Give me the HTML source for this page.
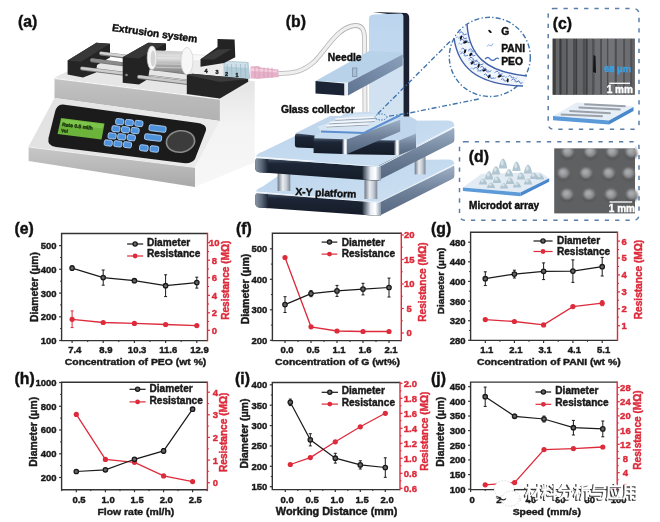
<!DOCTYPE html>
<html><head><meta charset="utf-8"><style>
html,body{margin:0;padding:0;background:#fff;}
body{width:660px;height:522px;overflow:hidden;}
svg{display:block;filter:blur(0.35px);}
</style></head><body>
<svg width="660" height="522" viewBox="0 0 660 522">
<rect width="660" height="522" fill="#fff"/>
<defs>
<linearGradient id="gFront" x1="0" y1="0" x2="0" y2="1">
 <stop offset="0" stop-color="#c4c4c4"/><stop offset="0.5" stop-color="#b9b9b9"/><stop offset="1" stop-color="#b2b2b2"/>
</linearGradient>
<linearGradient id="gFront2" x1="0" y1="0" x2="0" y2="1">
 <stop offset="0" stop-color="#c8c8c8"/><stop offset="1" stop-color="#a9a9a9"/>
</linearGradient>
<linearGradient id="gSide" x1="0" y1="0" x2="0" y2="1">
 <stop offset="0" stop-color="#e4e4e4"/><stop offset="0.4" stop-color="#f3f3f3"/><stop offset="1" stop-color="#f7f7f7"/>
</linearGradient>
<linearGradient id="gPanel" x1="0" y1="0" x2="1" y2="0">
 <stop offset="0" stop-color="#e2e2e2"/><stop offset="1" stop-color="#ececec"/>
</linearGradient>
<linearGradient id="gRod" x1="0" y1="0" x2="0" y2="1">
 <stop offset="0" stop-color="#e8e8e8"/><stop offset="0.5" stop-color="#b8b8b8"/><stop offset="1" stop-color="#8a8a8a"/>
</linearGradient>
<linearGradient id="gPlunger" x1="0" y1="0" x2="0" y2="1">
 <stop offset="0" stop-color="#c9c9c9"/><stop offset="0.35" stop-color="#e6e6e6"/><stop offset="0.7" stop-color="#a9a9a9"/><stop offset="1" stop-color="#8c8c8c"/>
</linearGradient>
<linearGradient id="gBlueTop" x1="0" y1="0" x2="1" y2="1">
 <stop offset="0" stop-color="#b9d3ec"/><stop offset="1" stop-color="#cfe1f2"/>
</linearGradient>
<linearGradient id="gBandL" x1="0" y1="0" x2="0" y2="1">
 <stop offset="0" stop-color="#4a5a70"/><stop offset="0.25" stop-color="#1d2636"/><stop offset="1" stop-color="#141b27"/>
</linearGradient>
<linearGradient id="gBandR" x1="0" y1="0" x2="0" y2="1">
 <stop offset="0" stop-color="#9db0c6"/><stop offset="0.5" stop-color="#6e8199"/><stop offset="1" stop-color="#566780"/>
</linearGradient>
<linearGradient id="gCorner" x1="0" y1="0" x2="1" y2="0">
 <stop offset="0" stop-color="#2a3444"/><stop offset="0.45" stop-color="#e8eef4"/><stop offset="0.7" stop-color="#ffffff"/><stop offset="1" stop-color="#8797ab"/>
</linearGradient>
<linearGradient id="gCornerL" x1="0" y1="0" x2="1" y2="0">
 <stop offset="0" stop-color="#8a96a6"/><stop offset="0.5" stop-color="#5b6879"/><stop offset="1" stop-color="#1d2636"/>
</linearGradient>
<linearGradient id="gPillar" x1="0" y1="0" x2="1" y2="0">
 <stop offset="0" stop-color="#6d7684"/><stop offset="0.4" stop-color="#e9edf1"/><stop offset="0.7" stop-color="#c3cad3"/><stop offset="1" stop-color="#7b8594"/>
</linearGradient>
<linearGradient id="gArmSide" x1="0" y1="1" x2="1" y2="0">
 <stop offset="0" stop-color="#5f7390"/><stop offset="1" stop-color="#8aa0bb"/>
</linearGradient>
<linearGradient id="gCol" x1="0" y1="0" x2="0" y2="1">
 <stop offset="0" stop-color="#bcd5ee"/><stop offset="1" stop-color="#c9ddf1"/>
</linearGradient>
<linearGradient id="gSEM" x1="0" y1="0" x2="1" y2="0">
 <stop offset="0" stop-color="#55575a"/><stop offset="0.5" stop-color="#6a6c70"/><stop offset="1" stop-color="#5e6064"/>
</linearGradient>
<filter id="fBlur" x="-10%" y="-10%" width="120%" height="120%"><feGaussianBlur stdDeviation="0.9"/></filter>
<filter id="fBlur2" x="-10%" y="-10%" width="120%" height="120%"><feGaussianBlur stdDeviation="0.5"/></filter>
</defs>
<polygon points="219.9,98.6 254.7,81.2 254.7,162.2 195,187 195,167 219.9,121" fill="url(#gSide)" />
<polygon points="54.5,77.5 96,58 254.7,81.2 219.9,98.6" fill="#e6e6e6" />
<polygon points="54.5,77.8 219.9,98.6 219.9,121 54.5,98" fill="url(#gFront)" />
<path d="M54.5 78.3L219.9 99.1" stroke="#f4f4f4" stroke-width="1.2"/>
<polygon points="54.5,98 219.9,121 195,167 28.6,146.6" fill="url(#gPanel)" />
<polygon points="28.6,146.6 195,167 195,187 28.6,161" fill="url(#gFront2)" />
<path d="M28.6 147L195 167.4" stroke="#f2f2f2" stroke-width="1"/>
<path d="M63 104.5 L198 123 Q209 125 205 133 L195 159 Q192 164 183 163 L56 147 Q47 146 48.5 138 L55 112 Q57 104 63 104.5Z" fill="#1b1b1b"/>
<polygon points="61,118 104.5,123.5 101.5,139.5 57.5,134" fill="#6bb33a" />
<polygon points="62,119 103.5,124.3 102.5,128.5 61,123.5" fill="#7cc54a" />
<text x="62" y="126" font-size="5" fill="#1f3a12" transform="rotate(7 62 126)" font-family="'Liberation Sans', Arial, sans-serif" font-weight="bold" stroke="#1f3a12" stroke-width="0.42">Rate 0.5 ml/h</text>
<text x="61" y="132" font-size="4.5" fill="#1f3a12" transform="rotate(7 61 132)" font-family="'Liberation Sans', Arial, sans-serif" font-weight="bold" stroke="#1f3a12" stroke-width="0.42">Vol</text>
<rect x="115.7" y="118.8" width="8" height="5.8" rx="1.6" fill="#4f92dc" stroke="#a9cdf3" stroke-width="0.9" transform="rotate(7 119.7 121.7)"/>
<rect x="125.3" y="119.7" width="8" height="5.8" rx="1.6" fill="#4f92dc" stroke="#a9cdf3" stroke-width="0.9" transform="rotate(7 129.3 122.6)"/>
<rect x="134.9" y="120.6" width="8" height="5.8" rx="1.6" fill="#4f92dc" stroke="#a9cdf3" stroke-width="0.9" transform="rotate(7 138.9 123.5)"/>
<rect x="111.9" y="125.9" width="8" height="5.8" rx="1.6" fill="#4f92dc" stroke="#a9cdf3" stroke-width="0.9" transform="rotate(7 115.9 128.8)"/>
<rect x="121.5" y="126.8" width="8" height="5.8" rx="1.6" fill="#4f92dc" stroke="#a9cdf3" stroke-width="0.9" transform="rotate(7 125.5 129.7)"/>
<rect x="131.1" y="127.7" width="8" height="5.8" rx="1.6" fill="#4f92dc" stroke="#a9cdf3" stroke-width="0.9" transform="rotate(7 135.1 130.6)"/>
<rect x="108.1" y="133.0" width="8" height="5.8" rx="1.6" fill="#4f92dc" stroke="#a9cdf3" stroke-width="0.9" transform="rotate(7 112.1 135.9)"/>
<rect x="117.7" y="133.9" width="8" height="5.8" rx="1.6" fill="#4f92dc" stroke="#a9cdf3" stroke-width="0.9" transform="rotate(7 121.7 136.8)"/>
<rect x="127.3" y="134.8" width="8" height="5.8" rx="1.6" fill="#4f92dc" stroke="#a9cdf3" stroke-width="0.9" transform="rotate(7 131.3 137.7)"/>
<rect x="104.3" y="140.1" width="8" height="5.8" rx="1.6" fill="#4f92dc" stroke="#a9cdf3" stroke-width="0.9" transform="rotate(7 108.3 143.0)"/>
<rect x="113.9" y="141.0" width="8" height="5.8" rx="1.6" fill="#4f92dc" stroke="#a9cdf3" stroke-width="0.9" transform="rotate(7 117.9 143.9)"/>
<rect x="123.5" y="141.9" width="8" height="5.8" rx="1.6" fill="#4f92dc" stroke="#a9cdf3" stroke-width="0.9" transform="rotate(7 127.5 144.8)"/>
<rect x="149.5" y="124.5" width="17" height="6" rx="1.6" fill="#4f92dc" stroke="#a9cdf3" stroke-width="0.9" transform="rotate(7 149.5 124.5)"/>
<rect x="145" y="133.5" width="17" height="6" rx="1.6" fill="#4f92dc" stroke="#a9cdf3" stroke-width="0.9" transform="rotate(7 145 133.5)"/>
<rect x="140" y="144.5" width="8.5" height="6" rx="1.6" fill="#4f92dc" stroke="#a9cdf3" stroke-width="0.9" transform="rotate(7 140 144.5)"/>
<rect x="150.5" y="145.5" width="8.5" height="6" rx="1.6" fill="#4f92dc" stroke="#a9cdf3" stroke-width="0.9" transform="rotate(7 150.5 145.5)"/>
<ellipse cx="180.5" cy="141.5" rx="15" ry="11.5" fill="#8a8a8a" transform="rotate(-8 180.5 141.5)"/>
<ellipse cx="180.5" cy="141.5" rx="13.3" ry="10" fill="#3c3c3c" transform="rotate(-8 180.5 141.5)"/>
<polygon points="67.6,60.4 96.4,42.7 110,43.8 110,57.5 97,65 96,72.5 83,77.5 67.6,74.5" fill="#252525" />
<polygon points="67.6,60.4 96.4,42.7 110,43.8 81,61.8" fill="#383838" />
<path d="M101 53.4L190 65" stroke="#7a7a7a" stroke-width="4" stroke-linecap="round"/>
<path d="M101 53.0L190 64.6" stroke="#d2d2d2" stroke-width="2.6" stroke-linecap="round"/>
<path d="M92 60.3L190 73" stroke="#7a7a7a" stroke-width="4" stroke-linecap="round"/>
<path d="M92 59.9L190 72.6" stroke="#8a8a8a" stroke-width="2.6" stroke-linecap="round"/>
<path d="M82 68.6L190 82" stroke="#7a7a7a" stroke-width="4" stroke-linecap="round"/>
<path d="M82 68.19999999999999L190 81.6" stroke="#cdcdcd" stroke-width="2.6" stroke-linecap="round"/>
<polygon points="122.7,57.3 148.2,42.7 166,43.6 166,50 151,60 148,79 139,84.5 122.7,82.7" fill="#232323" />
<polygon points="122.7,57.3 148.2,42.7 166,43.6 139,58.5" fill="#363636" />
<circle cx="126.5" cy="75" r="1.3" fill="#888"/>
<path d="M139 77L188 83" stroke="#777" stroke-width="4" stroke-linecap="round"/>
<path d="M139 76.6L188 82.6" stroke="#c9c9c9" stroke-width="2.6" stroke-linecap="round"/>
<polygon points="153.6,50.3 184,51.5 184,71.5 153.6,70.7" fill="url(#gPlunger)" />
<path d="M156 53.0L183 53.5" stroke="#d0d0d0" stroke-width="0.8"/>
<path d="M156 56.6L183 57.1" stroke="#d0d0d0" stroke-width="0.8"/>
<path d="M156 60.2L183 60.7" stroke="#d0d0d0" stroke-width="0.8"/>
<path d="M156 63.8L183 64.3" stroke="#d0d0d0" stroke-width="0.8"/>
<path d="M156 67.4L183 67.9" stroke="#d0d0d0" stroke-width="0.8"/>
<ellipse cx="152" cy="57.8" rx="4.8" ry="11.8" fill="#f6f6f6" stroke="#c8c8c8" stroke-width="0.7"/>
<ellipse cx="153" cy="58.5" rx="2.4" ry="8" fill="#d4d4d4"/>
<polygon points="188,53.5 225,56 225,77.5 188,74" fill="#ececec" />
<polygon points="192,55 224,57 224,62 192,60" fill="#f8f8f8" />
<ellipse cx="187" cy="61" rx="6" ry="13.6" fill="#f7f7f7" stroke="#d0d0d0" stroke-width="0.7"/>
<polygon points="223.5,60.5 248.5,62 250.3,79 223.5,79" fill="#b4ccd8" />
<polygon points="225,61.5 247,63 247.5,68 225,66.5" fill="#cfe0e8" />
<path d="M227.0 64 L227.5 77" stroke="#8fb0c2" stroke-width="0.6"/>
<path d="M231.5 64 L232.0 77" stroke="#8fb0c2" stroke-width="0.6"/>
<path d="M236.0 64 L236.5 77" stroke="#8fb0c2" stroke-width="0.6"/>
<path d="M240.5 64 L241.0 77" stroke="#8fb0c2" stroke-width="0.6"/>
<path d="M245.0 64 L245.5 77" stroke="#8fb0c2" stroke-width="0.6"/>
<polygon points="250.5,66.5 258,66 262,67.8 278.5,69.5 279,77 262,78.6 258,79 250.5,78.2" fill="#e6b2ca" />
<polygon points="251,68 277,70.5 277,72.5 251,71" fill="#f2cfdf" />
<path d="M255 67.5 L255 78" stroke="#d796b3" stroke-width="0.7"/>
<path d="M259 67.5 L259 78" stroke="#d796b3" stroke-width="0.7"/>
<path d="M264 67.5 L264 78" stroke="#d796b3" stroke-width="0.7"/>
<path d="M268 67.5 L268 78" stroke="#d796b3" stroke-width="0.7"/>
<path d="M272 67.5 L272 78" stroke="#d796b3" stroke-width="0.7"/>
<text x="204.6" y="72.5" font-size="5.5" fill="#222" font-family="'Liberation Sans', Arial, sans-serif" font-weight="bold" stroke="#222" stroke-width="0.42">4</text>
<text x="215.5" y="74" font-size="5.5" fill="#222" font-family="'Liberation Sans', Arial, sans-serif" font-weight="bold" stroke="#222" stroke-width="0.42">3</text>
<text x="225" y="75.5" font-size="5.5" fill="#222" font-family="'Liberation Sans', Arial, sans-serif" font-weight="bold" stroke="#222" stroke-width="0.42">2</text>
<text x="235.5" y="76.5" font-size="5.5" fill="#222" font-family="'Liberation Sans', Arial, sans-serif" font-weight="bold" stroke="#222" stroke-width="0.42">1</text>
<polygon points="200.5,59.3 217.5,47 217.5,38.9 234.6,39.5 235.3,57.3 224,63 200.5,66.8" fill="#232323" />
<polygon points="200.5,59.3 217.5,49.5 231.5,49 214,59.5" fill="#3a3a3a" />
<polygon points="186.8,75 192.3,73.7 248.2,79.1 248.2,81.8 219.9,98.6 186.8,94.1" fill="#242424" />
<polygon points="186.8,75 192.3,73.7 248.2,79.1 220,82" fill="#3b3b3b" />
<text x="18" y="27" font-size="15.8" fill="#111" font-family="'Liberation Sans', Arial, sans-serif" font-weight="bold" stroke="#111" stroke-width="0.42">(a)</text>
<text x="111.8" y="30.9" font-size="10.3" fill="#111" transform="rotate(7.8 111.8 30.9)" font-family="'Liberation Sans', Arial, sans-serif" font-weight="bold" stroke="#111" stroke-width="0.42">Extrusion system</text>
<path d="M278.5 73.3 C292 74 303 72 315 61 C328 47 338 27 355 25.5 C363 25.2 364.5 31 364.6 40 L365 114" fill="none" stroke="#b4b4b4" stroke-width="4.8"/>
<path d="M278.5 73.3 C292 74 303 72 315 61 C328 47 338 27 355 25.5 C363 25.2 364.5 31 364.6 40 L365 114" fill="none" stroke="#efefef" stroke-width="3.2"/>
<path d="M256 191.5 Q257 188.5 262 187 L300 161 L448 159.4 Q454.4 159.6 454.4 164 L379 202.3 Z" fill="url(#gBlueTop)"/>
<path d="M259 192.9 L379 202.3 L379 216 L259 207.4 Q255.3 207 255.3 203 L255.3 196 Q255.3 193 259 192.9Z" fill="url(#gBandL)"/>
<path d="M255.3 196 Q255.3 193 259 192.9 L268 193.6 L268 208.3 L259 207.4 Q255.3 207 255.3 203Z" fill="url(#gCornerL)"/>
<path d="M379 202.3 L452.3 166.2 Q454.4 165 454.4 168 L454.4 176 Q454.4 178 452.3 179 L379 216Z" fill="url(#gBandR)"/>
<polygon points="362.4,201 381,202.2 381,216 362.4,214.7" fill="url(#gCorner)" />
<path d="M257 192.8L379 202.3L452.3 166.3" fill="none" stroke="#e8f0f8" stroke-width="1"/>
<rect x="277.6" y="170" width="12.7" height="21" fill="url(#gPillar)"/>
<rect x="364.5" y="176" width="12.8" height="23" fill="url(#gPillar)"/>
<rect x="414.7" y="156" width="10.8" height="18.400000000000006" fill="url(#gPillar)"/>
<path d="M256 156.5 Q257 153.5 262 152 L326 121 L448 120.5 Q454.4 120.8 454.4 126 L379 165.5 Z" fill="url(#gBlueTop)"/>
<path d="M259 157.9 L379 167.3 L379 181 L259 172.2 Q255.3 171.8 255.3 168 L255.3 161 Q255.3 158 259 157.9Z" fill="url(#gBandL)"/>
<path d="M255.3 161 Q255.3 158 259 157.9 L268 158.6 L268 173 L259 172.2 Q255.3 171.8 255.3 168Z" fill="url(#gCornerL)"/>
<path d="M379 165.5 L452.3 128.4 Q454.4 127.2 454.4 130 L454.4 140 Q454.4 142 452.3 143 L379 180Z" fill="url(#gBandR)"/>
<polygon points="362.4,166 381,166.8 381,180.8 362.4,179.6" fill="url(#gCorner)" />
<path d="M257 157.8L379 166.5L452.3 128.6" fill="none" stroke="#e8f0f8" stroke-width="1"/>
<path d="M372.8 11.9 L406.3 13 Q409.2 14 409.2 18 L409.2 119 L402.7 121 L402.7 16 Z" fill="#1b2130"/>
<path d="M374 14.4 L401 13.4 Q403.4 13.6 403.4 16 L403.4 121 L369 124 L369 18 Q369.5 14.5 374 14.4Z" fill="url(#gCol)"/>
<path d="M369 64 L403.4 58 L403.4 121 L369 124Z" fill="#d6e4f1" opacity="0.7"/>
<polygon points="294.9,133.5 330,116 410,116.5 416.5,120 416,133.5 399.3,140.4 355,140.4 314.6,135" fill="#c0d6ec" />
<path d="M297 133.6 L314.6 135.5 L314.6 148.3 L297 147.6 Q294.9 147.3 294.9 145 L294.9 136 Q294.9 133.8 297 133.6Z" fill="url(#gBandL)"/>
<polygon points="347,139.4 394.3,140.4 394.3,155.1 347,154.3" fill="url(#gBandL)" />
<polygon points="394,140.3 399.5,140.4 399.5,155.1 394,155.1" fill="url(#gCorner)" />
<polygon points="399.3,140.4 416,133.5 416,148.2 399.3,155.1" fill="url(#gBandR)" />
<polygon points="313.6,137.4 347,139.4 400.2,119.7 368.7,111.8 345,113" fill="#c8dcef" />
<polygon points="313.6,138.2 342.5,139.2 342.5,154.1 313.6,153" fill="url(#gBandL)" />
<polygon points="342,139.2 347.5,139.4 347.5,154.2 342,154.1" fill="url(#gCorner)" />
<polygon points="347,139.4 400.2,119.7 400.2,131.5 347,154.1" fill="url(#gBandR)" />
<polygon points="317.6,126.6 355,114 397.3,113.3 400.5,115 364,133 321,131.5" fill="#d6e5f3" />
<path d="M335.3 120.3L376.6 118.3" stroke="#9aa6b3" stroke-width="1"/>
<path d="M335.3 119.10000000000001L376.6 117.10000000000001" stroke="#f4f7fb" stroke-width="1.5"/>
<path d="M329.4 123.8L374.6 121.5" stroke="#9aa6b3" stroke-width="1"/>
<path d="M329.4 122.60000000000001L374.6 120.30000000000001" stroke="#f4f7fb" stroke-width="1.5"/>
<path d="M326.4 127.0L368.7 125.0" stroke="#9aa6b3" stroke-width="1"/>
<path d="M326.4 125.80000000000001L368.7 123.80000000000001" stroke="#f4f7fb" stroke-width="1.5"/>
<path d="M321 131.5L364 133L400.5 115" stroke="#5d8fcf" stroke-width="2" fill="none"/>
<polygon points="315.5,80.9 369,51 401,52.5 402.7,54.5 348,82.7" fill="#b8d2ea" />
<polygon points="348,82.7 402.7,54.5 402.7,65.5 348,95.5" fill="url(#gArmSide)" />
<polygon points="315.5,80.9 344.5,83.6 344.5,95.5 315.5,93.6" fill="#1a2434" />
<polygon points="344.5,83.6 348,82.7 348,95.5 344.5,95.5" fill="#e8eef5" />
<rect x="352.5" y="68" width="4.4" height="8.5" fill="#a9bfd6" stroke="#6a7f99" stroke-width="0.6"/>
<text x="285.8" y="27" font-size="15.8" fill="#111" font-family="'Liberation Sans', Arial, sans-serif" font-weight="bold" stroke="#111" stroke-width="0.42">(b)</text>
<text x="327.8" y="61" font-size="10.3" fill="#111" font-family="'Liberation Sans', Arial, sans-serif" font-weight="bold" stroke="#111" stroke-width="0.42">Needle</text>
<text x="281" y="113" font-size="10.3" fill="#111" font-family="'Liberation Sans', Arial, sans-serif" font-weight="bold" stroke="#111" stroke-width="0.42">Glass collector</text>
<text x="295.2" y="195" font-size="10.3" fill="#111" transform="rotate(2.6 295.2 195)" font-family="'Liberation Sans', Arial, sans-serif" font-weight="bold" stroke="#111" stroke-width="0.42">X-Y platform</text>
<ellipse cx="489.8" cy="56.9" rx="40.5" ry="39.6" fill="#fff" stroke="#3f74ad" stroke-width="1.4" stroke-dasharray="5 2.2 1.4 2.2"/>
<path d="M450 41.5L377.2 114.3M478.8 99L407.9 113.3L388.7 116.2" stroke="#3f74ad" stroke-width="1.4" fill="none" stroke-dasharray="5 2.2 1.4 2.2"/>
<ellipse cx="381" cy="117" rx="6" ry="3" fill="none" stroke="#3f74ad" stroke-width="1" stroke-dasharray="1.5 1.2"/>
<path d="M467 24 C469 55 485 72 527 76 L523 86 C475 84.5 458 66 454 38Z" fill="#f1f5fc"/>
<path d="M467 24 C469 55 485 72 527 76" fill="none" stroke="#3f5fa8" stroke-width="1.4"/>
<path d="M454 38 C458 66 475 84.5 523 86" fill="none" stroke="#3f5fa8" stroke-width="1.4"/>
<path d="M459.1 33.2 q2.1 -3.0 4.2 0 q-1.3 2.8 3.4 0.8 M459.6 37.1 q2.1 -2.9 4.1 0 q-1.2 2.7 3.3 0.8 M459.9 41.0 q2.2 -3.1 4.4 0 q-1.3 2.9 3.5 0.9 M464.2 41.3 q1.8 -2.6 3.7 0 q-1.1 2.4 2.9 0.7 M461.3 49.2 q1.5 -2.2 3.1 0 q-0.9 2.0 2.5 0.6 M460.1 54.3 q2.2 -3.1 4.4 0 q-1.3 2.9 3.6 0.9 M468.2 50.3 q2.1 -2.9 4.2 0 q-1.2 2.7 3.3 0.8 M469.0 54.5 q1.8 -2.5 3.5 0 q-1.1 2.3 2.8 0.7 M468.6 59.1 q2.4 -3.4 4.9 0 q-1.5 3.2 3.9 1.0 M469.9 63.1 q2.0 -2.9 4.1 0 q-1.2 2.7 3.3 0.8 M474.0 62.9 q2.6 -3.6 5.2 0 q-1.6 3.4 4.2 1.0 M473.6 69.1 q2.3 -3.2 4.6 0 q-1.4 3.0 3.6 0.9 M480.4 67.4 q1.6 -2.2 3.2 0 q-0.9 2.1 2.5 0.6 M482.0 70.1 q2.4 -3.4 4.9 0 q-1.5 3.2 3.9 1.0 M483.9 75.0 q1.5 -2.1 3.0 0 q-0.9 2.0 2.4 0.6 M486.9 77.0 q2.0 -2.8 4.0 0 q-1.2 2.6 3.2 0.8 M494.7 72.8 q2.2 -3.1 4.4 0 q-1.3 2.9 3.5 0.9 M498.5 75.4 q1.6 -2.2 3.2 0 q-1.0 2.1 2.6 0.6 M500.9 79.8 q1.6 -2.3 3.3 0 q-1.0 2.1 2.6 0.7 M508.3 76.5 q1.6 -2.2 3.1 0 q-0.9 2.0 2.5 0.6 M511.3 80.3 q2.0 -2.8 4.0 0 q-1.2 2.6 3.2 0.8 M516.7 82.0 q1.6 -2.3 3.3 0 q-1.0 2.1 2.6 0.7" fill="none" stroke="#4e72bf" stroke-width="0.9"/>
<path d="M456.0 38.1 q1 -2.5 2 -0.5 q1 2 2 -1 M458.5 44.3 q1 -2.5 2 -0.5 q1 2 2 -1 M459.3 52.4 q1 -2.5 2 -0.5 q1 2 2 -1 M468.5 51.6 q1 -2.5 2 -0.5 q1 2 2 -1 M469.1 60.6 q1 -2.5 2 -0.5 q1 2 2 -1 M470.7 69.0 q1 -2.5 2 -0.5 q1 2 2 -1 M477.7 71.7 q1 -2.5 2 -0.5 q1 2 2 -1 M487.3 71.6 q1 -2.5 2 -0.5 q1 2 2 -1 M492.0 78.6 q1 -2.5 2 -0.5 q1 2 2 -1 M503.1 77.4 q1 -2.5 2 -0.5 q1 2 2 -1 M513.1 78.9 q1 -2.5 2 -0.5 q1 2 2 -1" fill="none" stroke="#93b6e0" stroke-width="0.9"/>
<ellipse cx="461.0" cy="37.8" rx="2.1" ry="1" fill="#111" transform="rotate(108 461.0 37.8)"/>
<ellipse cx="465.1" cy="42.3" rx="2.1" ry="1" fill="#111" transform="rotate(158 465.1 42.3)"/>
<ellipse cx="465.0" cy="51.4" rx="2.1" ry="1" fill="#111" transform="rotate(106 465.0 51.4)"/>
<ellipse cx="470.8" cy="54.5" rx="2.1" ry="1" fill="#111" transform="rotate(129 470.8 54.5)"/>
<ellipse cx="472.2" cy="62.8" rx="2.1" ry="1" fill="#111" transform="rotate(128 472.2 62.8)"/>
<ellipse cx="478.6" cy="65.9" rx="2.1" ry="1" fill="#111" transform="rotate(108 478.6 65.9)"/>
<ellipse cx="484.3" cy="70.3" rx="2.1" ry="1" fill="#111" transform="rotate(165 484.3 70.3)"/>
<ellipse cx="489.3" cy="76.4" rx="2.1" ry="1" fill="#111" transform="rotate(118 489.3 76.4)"/>
<ellipse cx="499.6" cy="76.2" rx="2.1" ry="1" fill="#111" transform="rotate(160 499.6 76.2)"/>
<ellipse cx="507.7" cy="80.4" rx="2.1" ry="1" fill="#111" transform="rotate(94 507.7 80.4)"/>
<ellipse cx="490" cy="31.4" rx="2.1" ry="1" fill="#111" transform="rotate(40 490 31.4)"/>
<path d="M487 46.5 q1.5 -3 3 -1 q1.5 2 3 -2" fill="none" stroke="#8fb3dd" stroke-width="1"/>
<path d="M485 59 q3 -3 5 0 q3 3 6 -0.5 q2 -1 2.7 0.5" fill="none" stroke="#4a6fc0" stroke-width="1.3"/>
<text x="501.2" y="35.4" font-size="10.3" fill="#111" font-family="'Liberation Sans', Arial, sans-serif" font-weight="bold" stroke="#111" stroke-width="0.42">G</text>
<text x="501.2" y="51.6" font-size="10.3" fill="#111" font-family="'Liberation Sans', Arial, sans-serif" font-weight="bold" stroke="#111" stroke-width="0.42">PANI</text>
<text x="501.2" y="64.7" font-size="10.3" fill="#111" font-family="'Liberation Sans', Arial, sans-serif" font-weight="bold" stroke="#111" stroke-width="0.42">PEO</text>
<rect x="548.2" y="8.6" width="90.8" height="120.6" rx="5" fill="none" stroke="#5a7ea8" stroke-width="1.5" stroke-dasharray="4.3 6"/>
<text x="552.8" y="28.6" font-size="15.8" fill="#111" font-family="'Liberation Sans', Arial, sans-serif" font-weight="bold" stroke="#111" stroke-width="0.42">(c)</text>
<rect x="552.7" y="38.7" width="82" height="56" fill="#5c5d60"/>
<rect x="552.7" y="38.7" width="3" height="56" fill="#3e3f41"/>
<rect x="556" y="38.7" width="3.5" height="56" fill="#666769"/>
<rect x="559.5" y="38.7" width="2" height="56" fill="#3a3b3d"/>
<rect x="562" y="38.7" width="4" height="56" fill="#616265"/>
<rect x="566" y="38.7" width="1.5" height="56" fill="#444547"/>
<rect x="568" y="38.7" width="5" height="56" fill="#6a6b6e"/>
<rect x="573" y="38.7" width="2" height="56" fill="#4a4b4d"/>
<rect x="575.5" y="38.7" width="1.5" height="56" fill="#3b3c3e"/>
<rect x="577.5" y="38.7" width="5" height="56" fill="#66676a"/>
<rect x="583" y="38.7" width="2.5" height="56" fill="#4e4f51"/>
<rect x="586" y="38.7" width="1.5" height="56" fill="#3d3e40"/>
<rect x="588" y="38.7" width="4" height="56" fill="#68696c"/>
<rect x="592" y="38.7" width="2" height="56" fill="#525356"/>
<rect x="595" y="38.7" width="5" height="56" fill="#6e6f72"/>
<rect x="600.5" y="38.7" width="1.2" height="56" fill="#4a4b4e"/>
<rect x="602" y="38.7" width="5" height="56" fill="#717276"/>
<rect x="607" y="38.7" width="1.2" height="56" fill="#4c4d50"/>
<rect x="608.5" y="38.7" width="6" height="56" fill="#737478"/>
<rect x="615" y="38.7" width="1.5" height="56" fill="#4e4f52"/>
<rect x="617" y="38.7" width="6" height="56" fill="#6f7074"/>
<rect x="623.5" y="38.7" width="1.2" height="56" fill="#505154"/>
<rect x="625" y="38.7" width="5" height="56" fill="#6c6d71"/>
<rect x="630.5" y="38.7" width="1.5" height="56" fill="#505154"/>
<rect x="632.3" y="38.7" width="2.4" height="56" fill="#626366"/>
<path d="M593.5 55 L595.5 56 L596 73 L593 72Z" fill="#151515"/>
<text x="604" y="72.3" font-size="9.4" fill="#3aa0e4" font-family="'Liberation Sans', Arial, sans-serif" font-weight="bold" stroke="#3aa0e4" stroke-width="0.42">68 μm</text>
<path d="M609.3 83.3 H630" stroke="#fff" stroke-width="1.3"/>
<text x="606.7" y="93.3" font-size="10" fill="#fff" font-family="'Liberation Sans', Arial, sans-serif" font-weight="bold" stroke="#fff" stroke-width="0.42">1 mm</text>
<polygon points="553,116 576.5,102.5 632,106 633.5,107 609,120.4" fill="#e6eef7" />
<polygon points="553,116 609,120.4 609,124.4 553,120.2" fill="#5b9ad8" />
<polygon points="609,120.4 633.5,107 633.5,111 609,124.4" fill="#4a88cc" />
<path d="M584.3 104.2L625.6 106.3" stroke="#9ba1a8" stroke-width="2"/>
<path d="M578.6 107.6L620.6 109.5" stroke="#9ba1a8" stroke-width="2"/>
<path d="M569.4 111L610.7 113.2" stroke="#9ba1a8" stroke-width="2"/>
<path d="M560.8 114.6L602.8 116.2" stroke="#9ba1a8" stroke-width="2"/>
<rect x="459.5" y="141.8" width="179.5" height="78.4" rx="5" fill="none" stroke="#5a7ea8" stroke-width="1.5" stroke-dasharray="4.3 6"/>
<text x="468.8" y="161.5" font-size="15.8" fill="#111" font-family="'Liberation Sans', Arial, sans-serif" font-weight="bold" stroke="#111" stroke-width="0.42">(d)</text>
<text x="469.1" y="208.6" font-size="10.1" fill="#111" font-family="'Liberation Sans', Arial, sans-serif" font-weight="bold" stroke="#111" stroke-width="0.42">Microdot array</text>
<rect x="554.2" y="148.2" width="80.8" height="65.2" fill="#5f6062"/>
<g filter="url(#fBlur)">
<ellipse cx="567.7" cy="153.60000000000002" rx="6" ry="5" fill="#3e3f41"/>
<ellipse cx="567.7" cy="151.8" rx="5.6" ry="5.2" fill="#8e9093"/>
<ellipse cx="566.9000000000001" cy="150.8" rx="3.2" ry="2.8" fill="#a9abae"/>
<ellipse cx="590.4" cy="153.60000000000002" rx="6" ry="5" fill="#3e3f41"/>
<ellipse cx="590.4" cy="151.8" rx="5.6" ry="5.2" fill="#8e9093"/>
<ellipse cx="589.6" cy="150.8" rx="3.2" ry="2.8" fill="#a9abae"/>
<ellipse cx="612.3" cy="153.60000000000002" rx="6" ry="5" fill="#3e3f41"/>
<ellipse cx="612.3" cy="151.8" rx="5.6" ry="5.2" fill="#8e9093"/>
<ellipse cx="611.5" cy="150.8" rx="3.2" ry="2.8" fill="#a9abae"/>
<ellipse cx="631.4" cy="153.60000000000002" rx="6" ry="5" fill="#3e3f41"/>
<ellipse cx="631.4" cy="151.8" rx="5.6" ry="5.2" fill="#8e9093"/>
<ellipse cx="630.6" cy="150.8" rx="3.2" ry="2.8" fill="#a9abae"/>
<ellipse cx="563.5" cy="174.8" rx="6" ry="5" fill="#3e3f41"/>
<ellipse cx="563.5" cy="173" rx="5.6" ry="5.2" fill="#8e9093"/>
<ellipse cx="562.7" cy="172" rx="3.2" ry="2.8" fill="#a9abae"/>
<ellipse cx="586.1" cy="174.8" rx="6" ry="5" fill="#3e3f41"/>
<ellipse cx="586.1" cy="173" rx="5.6" ry="5.2" fill="#8e9093"/>
<ellipse cx="585.3000000000001" cy="172" rx="3.2" ry="2.8" fill="#a9abae"/>
<ellipse cx="608.8" cy="174.8" rx="6" ry="5" fill="#3e3f41"/>
<ellipse cx="608.8" cy="173" rx="5.6" ry="5.2" fill="#8e9093"/>
<ellipse cx="608.0" cy="172" rx="3.2" ry="2.8" fill="#a9abae"/>
<ellipse cx="628.6" cy="174.8" rx="6" ry="5" fill="#3e3f41"/>
<ellipse cx="628.6" cy="173" rx="5.6" ry="5.2" fill="#8e9093"/>
<ellipse cx="627.8000000000001" cy="172" rx="3.2" ry="2.8" fill="#a9abae"/>
<ellipse cx="567" cy="196.10000000000002" rx="6" ry="5" fill="#3e3f41"/>
<ellipse cx="567" cy="194.3" rx="5.6" ry="5.2" fill="#8e9093"/>
<ellipse cx="566.2" cy="193.3" rx="3.2" ry="2.8" fill="#a9abae"/>
<ellipse cx="589" cy="196.10000000000002" rx="6" ry="5" fill="#3e3f41"/>
<ellipse cx="589" cy="194.3" rx="5.6" ry="5.2" fill="#8e9093"/>
<ellipse cx="588.2" cy="193.3" rx="3.2" ry="2.8" fill="#a9abae"/>
<ellipse cx="611" cy="196.10000000000002" rx="6" ry="5" fill="#3e3f41"/>
<ellipse cx="611" cy="194.3" rx="5.6" ry="5.2" fill="#8e9093"/>
<ellipse cx="610.2" cy="193.3" rx="3.2" ry="2.8" fill="#a9abae"/>
<ellipse cx="632" cy="196.10000000000002" rx="6" ry="5" fill="#3e3f41"/>
<ellipse cx="632" cy="194.3" rx="5.6" ry="5.2" fill="#8e9093"/>
<ellipse cx="631.2" cy="193.3" rx="3.2" ry="2.8" fill="#a9abae"/>
</g>
<rect x="554.2" y="144" width="80.8" height="4.2" fill="#fff"/>
<path d="M609.5 202 H632.2" stroke="#fff" stroke-width="1.3"/>
<text x="608.8" y="212.2" font-size="10" fill="#fff" font-family="'Liberation Sans', Arial, sans-serif" font-weight="bold" stroke="#fff" stroke-width="0.42">1 mm</text>
<polygon points="462.9,187.5 481.6,173.7 540.6,172.3 549.2,178.3 520.4,192.6" fill="#e2ebf4" />
<polygon points="462.9,187.5 520.4,192.6 520.4,196.2 462.9,191" fill="#5c9bd8" />
<polygon points="520.4,192.6 549.2,178.3 549.2,181.8 520.4,196.2" fill="#4a89cd" />
<g filter="url(#fBlur2)">
<path d="M498.8 168.5 Q500 159.5 503 158.5 Q506 159.5 507.2 168.5Z" fill="#a9c0cb" opacity="0.9"/>
<ellipse cx="502.2" cy="162.75" rx="1.5" ry="2.8" fill="#d4e2e8"/>
<path d="M512.3 171.0 Q513.5 162.5 516.5 161.5 Q519.5 162.5 520.7 171.0Z" fill="#a9c0cb" opacity="0.9"/>
<ellipse cx="515.7" cy="165.5" rx="1.5" ry="2.7" fill="#d4e2e8"/>
<path d="M491.8 174.5 Q493 167 496 166 Q499 167 500.2 174.5Z" fill="#a9c0cb" opacity="0.9"/>
<ellipse cx="495.2" cy="169.5" rx="1.5" ry="2.3" fill="#d4e2e8"/>
<path d="M523.8 173.5 Q525 165.5 528 164.5 Q531 165.5 532.2 173.5Z" fill="#a9c0cb" opacity="0.9"/>
<ellipse cx="527.2" cy="168.25" rx="1.5" ry="2.5" fill="#d4e2e8"/>
<path d="M484.8 179.5 Q486 172 489 171 Q492 172 493.2 179.5Z" fill="#a9c0cb" opacity="0.9"/>
<ellipse cx="488.2" cy="174.5" rx="1.5" ry="2.3" fill="#d4e2e8"/>
<path d="M504.8 176.5 Q506 170 509 169 Q512 170 513.2 176.5Z" fill="#a9c0cb" opacity="0.9"/>
<ellipse cx="508.2" cy="172.0" rx="1.5" ry="2.0" fill="#d4e2e8"/>
<path d="M478.8 184.5 Q480 179.5 483 178.5 Q486 179.5 487.2 184.5Z" fill="#a9c0cb" opacity="0.9"/>
<ellipse cx="482.2" cy="180.75" rx="1.5" ry="1.5" fill="#d4e2e8"/>
<path d="M492.8 183.0 Q494 177.5 497 176.5 Q500 177.5 501.2 183.0Z" fill="#a9c0cb" opacity="0.9"/>
<ellipse cx="496.2" cy="179.0" rx="1.5" ry="1.7" fill="#d4e2e8"/>
<path d="M516.8 179.5 Q518 173.5 521 172.5 Q524 173.5 525.2 179.5Z" fill="#a9c0cb" opacity="0.9"/>
<ellipse cx="520.2" cy="175.25" rx="1.5" ry="1.8" fill="#d4e2e8"/>
<path d="M529.8 179.0 Q531 173.5 534 172.5 Q537 173.5 538.2 179.0Z" fill="#a9c0cb" opacity="0.9"/>
<ellipse cx="533.2" cy="175.0" rx="1.5" ry="1.7" fill="#d4e2e8"/>
<path d="M505.8 184.0 Q507 178.5 510 177.5 Q513 178.5 514.2 184.0Z" fill="#a9c0cb" opacity="0.9"/>
<ellipse cx="509.2" cy="180.0" rx="1.5" ry="1.7" fill="#d4e2e8"/>
<path d="M486.8 188.0 Q488 183.5 491 182.5 Q494 183.5 495.2 188.0Z" fill="#a9c0cb" opacity="0.9"/>
<ellipse cx="490.2" cy="184.5" rx="1.5" ry="1.3" fill="#d4e2e8"/>
<path d="M499.8 188.5 Q501 184 504 183 Q507 184 508.2 188.5Z" fill="#a9c0cb" opacity="0.9"/>
<ellipse cx="503.2" cy="185.0" rx="1.5" ry="1.3" fill="#d4e2e8"/>
<path d="M512.8 187.5 Q514 183 517 182 Q520 183 521.2 187.5Z" fill="#a9c0cb" opacity="0.9"/>
<ellipse cx="516.2" cy="184.0" rx="1.5" ry="1.3" fill="#d4e2e8"/>
<path d="M523.8 184.5 Q525 179.5 528 178.5 Q531 179.5 532.2 184.5Z" fill="#a9c0cb" opacity="0.9"/>
<ellipse cx="527.2" cy="180.75" rx="1.5" ry="1.5" fill="#d4e2e8"/>
<path d="M535.8 179.5 Q537 175 540 174 Q543 175 544.2 179.5Z" fill="#a9c0cb" opacity="0.9"/>
<ellipse cx="539.2" cy="176.0" rx="1.5" ry="1.3" fill="#d4e2e8"/>
</g>
<path d="M207.5 233.5H61.6V340.6H207.5" fill="none" stroke="#333" stroke-width="1.4"/>
<path d="M207.5 232.8V341.3" fill="none" stroke="#dd2b3b" stroke-width="1.4"/>
<path d="M61.6 340.5h-2.5" stroke="#333" stroke-width="1.2"/>
<text x="56.6" y="343.9" font-size="9.5" text-anchor="end" fill="#1a1a1a" font-family="'Liberation Sans', Arial, sans-serif" font-weight="bold" stroke="#1a1a1a" stroke-width="0.42">100</text>
<path d="M61.6 316.8h-2.5" stroke="#333" stroke-width="1.2"/>
<text x="56.6" y="320.2" font-size="9.5" text-anchor="end" fill="#1a1a1a" font-family="'Liberation Sans', Arial, sans-serif" font-weight="bold" stroke="#1a1a1a" stroke-width="0.42">200</text>
<path d="M61.6 293.1h-2.5" stroke="#333" stroke-width="1.2"/>
<text x="56.6" y="296.5" font-size="9.5" text-anchor="end" fill="#1a1a1a" font-family="'Liberation Sans', Arial, sans-serif" font-weight="bold" stroke="#1a1a1a" stroke-width="0.42">300</text>
<path d="M61.6 269.3h-2.5" stroke="#333" stroke-width="1.2"/>
<text x="56.6" y="272.7" font-size="9.5" text-anchor="end" fill="#1a1a1a" font-family="'Liberation Sans', Arial, sans-serif" font-weight="bold" stroke="#1a1a1a" stroke-width="0.42">400</text>
<path d="M61.6 245.6h-2.5" stroke="#333" stroke-width="1.2"/>
<text x="56.6" y="249.0" font-size="9.5" text-anchor="end" fill="#1a1a1a" font-family="'Liberation Sans', Arial, sans-serif" font-weight="bold" stroke="#1a1a1a" stroke-width="0.42">500</text>
<path d="M61.6 328.6h-1.5" stroke="#333" stroke-width="1"/>
<path d="M61.6 304.9h-1.5" stroke="#333" stroke-width="1"/>
<path d="M61.6 281.2h-1.5" stroke="#333" stroke-width="1"/>
<path d="M61.6 257.5h-1.5" stroke="#333" stroke-width="1"/>
<path d="M207.5 330.3h2.5" stroke="#dd2b3b" stroke-width="1.2"/>
<text x="214.3" y="333.7" font-size="9.5" text-anchor="middle" fill="#dd2b3b" font-family="'Liberation Sans', Arial, sans-serif" font-weight="bold" stroke="#dd2b3b" stroke-width="0.42">0</text>
<path d="M207.5 312.8h2.5" stroke="#dd2b3b" stroke-width="1.2"/>
<text x="214.3" y="316.2" font-size="9.5" text-anchor="middle" fill="#dd2b3b" font-family="'Liberation Sans', Arial, sans-serif" font-weight="bold" stroke="#dd2b3b" stroke-width="0.42">2</text>
<path d="M207.5 295.3h2.5" stroke="#dd2b3b" stroke-width="1.2"/>
<text x="214.3" y="298.7" font-size="9.5" text-anchor="middle" fill="#dd2b3b" font-family="'Liberation Sans', Arial, sans-serif" font-weight="bold" stroke="#dd2b3b" stroke-width="0.42">4</text>
<path d="M207.5 277.7h2.5" stroke="#dd2b3b" stroke-width="1.2"/>
<text x="214.3" y="281.1" font-size="9.5" text-anchor="middle" fill="#dd2b3b" font-family="'Liberation Sans', Arial, sans-serif" font-weight="bold" stroke="#dd2b3b" stroke-width="0.42">6</text>
<path d="M207.5 260.2h2.5" stroke="#dd2b3b" stroke-width="1.2"/>
<text x="214.3" y="263.6" font-size="9.5" text-anchor="middle" fill="#dd2b3b" font-family="'Liberation Sans', Arial, sans-serif" font-weight="bold" stroke="#dd2b3b" stroke-width="0.42">8</text>
<path d="M207.5 242.7h2.5" stroke="#dd2b3b" stroke-width="1.2"/>
<text x="214.3" y="246.1" font-size="9.5" text-anchor="middle" fill="#dd2b3b" font-family="'Liberation Sans', Arial, sans-serif" font-weight="bold" stroke="#dd2b3b" stroke-width="0.42">10</text>
<path d="M207.5 321.5h1.5" stroke="#dd2b3b" stroke-width="1"/>
<path d="M207.5 304.0h1.5" stroke="#dd2b3b" stroke-width="1"/>
<path d="M207.5 286.5h1.5" stroke="#dd2b3b" stroke-width="1"/>
<path d="M207.5 269.0h1.5" stroke="#dd2b3b" stroke-width="1"/>
<path d="M207.5 251.5h1.5" stroke="#dd2b3b" stroke-width="1"/>
<path d="M72.1 340.6v2.5" stroke="#333" stroke-width="1.2"/>
<text x="74.8" y="353.2" font-size="9.5" text-anchor="middle" fill="#1a1a1a" font-family="'Liberation Sans', Arial, sans-serif" font-weight="bold" stroke="#1a1a1a" stroke-width="0.42">7.4</text>
<path d="M103.2 340.6v2.5" stroke="#333" stroke-width="1.2"/>
<text x="105.9" y="353.2" font-size="9.5" text-anchor="middle" fill="#1a1a1a" font-family="'Liberation Sans', Arial, sans-serif" font-weight="bold" stroke="#1a1a1a" stroke-width="0.42">8.9</text>
<path d="M134.4 340.6v2.5" stroke="#333" stroke-width="1.2"/>
<text x="137.1" y="353.2" font-size="9.5" text-anchor="middle" fill="#1a1a1a" font-family="'Liberation Sans', Arial, sans-serif" font-weight="bold" stroke="#1a1a1a" stroke-width="0.42">10.3</text>
<path d="M165.6 340.6v2.5" stroke="#333" stroke-width="1.2"/>
<text x="168.3" y="353.2" font-size="9.5" text-anchor="middle" fill="#1a1a1a" font-family="'Liberation Sans', Arial, sans-serif" font-weight="bold" stroke="#1a1a1a" stroke-width="0.42">11.6</text>
<path d="M196.8 340.6v2.5" stroke="#333" stroke-width="1.2"/>
<text x="199.5" y="353.2" font-size="9.5" text-anchor="middle" fill="#1a1a1a" font-family="'Liberation Sans', Arial, sans-serif" font-weight="bold" stroke="#1a1a1a" stroke-width="0.42">12.9</text>
<path d="M87.7 340.6v1.5" stroke="#333" stroke-width="1"/>
<path d="M118.8 340.6v1.5" stroke="#333" stroke-width="1"/>
<path d="M150.0 340.6v1.5" stroke="#333" stroke-width="1"/>
<path d="M181.2 340.6v1.5" stroke="#333" stroke-width="1"/>
<text x="135.6" y="364.9" font-size="9.67" textLength="141.5" lengthAdjust="spacingAndGlyphs" text-anchor="middle" fill="#1a1a1a" font-family="'Liberation Sans', Arial, sans-serif" font-weight="bold" stroke="#1a1a1a" stroke-width="0.42">Concentration of PEO (wt %)</text>
<text transform="translate(33.8 287) rotate(-90)" x="0" y="3.7" font-size="10.4" text-anchor="middle" fill="#1a1a1a" font-family="'Liberation Sans', Arial, sans-serif" font-weight="bold" stroke="#1a1a1a" stroke-width="0.42">Diameter (μm)</text>
<text transform="translate(225 280.2) rotate(-90)" x="0" y="3.6" font-size="10.1" text-anchor="middle" fill="#dd2b3b" font-family="'Liberation Sans', Arial, sans-serif" font-weight="bold" stroke="#dd2b3b" stroke-width="0.42">Resistance (MΩ)</text>
<polyline points="72.1,319.3 103.2,322.5 134.4,323.4 165.6,324.5 196.8,325.6" fill="none" stroke="#dd2b3b" stroke-width="1.3"/>
<path d="M72.1 310.9V327.6M70.6 310.9h3M70.6 327.6h3" stroke="#dd2b3b" stroke-width="1"/>
<circle cx="72.1" cy="319.3" r="2.6" fill="#dd2b3b"/>
<circle cx="103.2" cy="322.5" r="2.6" fill="#dd2b3b"/>
<circle cx="134.4" cy="323.4" r="2.6" fill="#dd2b3b"/>
<circle cx="165.6" cy="324.5" r="2.6" fill="#dd2b3b"/>
<circle cx="196.8" cy="325.6" r="2.6" fill="#dd2b3b"/>
<polyline points="72.1,268.1 103.2,277.6 134.4,280.7 165.6,285.7 196.8,282.6" fill="none" stroke="#1a1a1a" stroke-width="1.2"/>
<path d="M72.1 265.8V270.5M70.6 265.8h3M70.6 270.5h3" stroke="#1a1a1a" stroke-width="1"/>
<circle cx="72.1" cy="268.1" r="2.2" fill="#666" stroke="#1a1a1a" stroke-width="1.3"/>
<path d="M103.2 270.0V285.2M101.7 270.0h3M101.7 285.2h3" stroke="#1a1a1a" stroke-width="1"/>
<circle cx="103.2" cy="277.6" r="2.2" fill="#666" stroke="#1a1a1a" stroke-width="1.3"/>
<path d="M134.4 278.8V282.6M132.9 278.8h3M132.9 282.6h3" stroke="#1a1a1a" stroke-width="1"/>
<circle cx="134.4" cy="280.7" r="2.2" fill="#666" stroke="#1a1a1a" stroke-width="1.3"/>
<path d="M165.6 274.8V296.6M164.1 274.8h3M164.1 296.6h3" stroke="#1a1a1a" stroke-width="1"/>
<circle cx="165.6" cy="285.7" r="2.2" fill="#666" stroke="#1a1a1a" stroke-width="1.3"/>
<path d="M196.8 277.2V288.1M195.3 277.2h3M195.3 288.1h3" stroke="#1a1a1a" stroke-width="1"/>
<circle cx="196.8" cy="282.6" r="2.2" fill="#666" stroke="#1a1a1a" stroke-width="1.3"/>
<path d="M127.1 244H143.2" stroke="#1a1a1a" stroke-width="1.2"/>
<circle cx="135.1" cy="244" r="2.1" fill="#666" stroke="#1a1a1a" stroke-width="1.3"/>
<path d="M127.1 256H143.2" stroke="#dd2b3b" stroke-width="1.2"/>
<circle cx="135.1" cy="256" r="2.4" fill="#dd2b3b"/>
<text x="147" y="246.3" font-size="10.1" fill="#1a1a1a" font-family="'Liberation Sans', Arial, sans-serif" font-weight="bold" stroke="#1a1a1a" stroke-width="0.42">Diameter</text>
<text x="147" y="257.3" font-size="10.1" fill="#1a1a1a" font-family="'Liberation Sans', Arial, sans-serif" font-weight="bold" stroke="#1a1a1a" stroke-width="0.42">Resistance</text>
<text x="14.5" y="233.6" font-size="15.8" fill="#111" font-family="'Liberation Sans', Arial, sans-serif" font-weight="bold" stroke="#111" stroke-width="0.42">(e)</text>
<path d="M401.3 233.3H272.4V340.6H401.3" fill="none" stroke="#333" stroke-width="1.4"/>
<path d="M401.3 232.60000000000002V341.3" fill="none" stroke="#dd2b3b" stroke-width="1.4"/>
<path d="M272.4 340.3h-2.5" stroke="#333" stroke-width="1.2"/>
<text x="267.4" y="343.7" font-size="9.5" text-anchor="end" fill="#1a1a1a" font-family="'Liberation Sans', Arial, sans-serif" font-weight="bold" stroke="#1a1a1a" stroke-width="0.42">200</text>
<path d="M272.4 309.8h-2.5" stroke="#333" stroke-width="1.2"/>
<text x="267.4" y="313.2" font-size="9.5" text-anchor="end" fill="#1a1a1a" font-family="'Liberation Sans', Arial, sans-serif" font-weight="bold" stroke="#1a1a1a" stroke-width="0.42">300</text>
<path d="M272.4 279.3h-2.5" stroke="#333" stroke-width="1.2"/>
<text x="267.4" y="282.7" font-size="9.5" text-anchor="end" fill="#1a1a1a" font-family="'Liberation Sans', Arial, sans-serif" font-weight="bold" stroke="#1a1a1a" stroke-width="0.42">400</text>
<path d="M272.4 248.8h-2.5" stroke="#333" stroke-width="1.2"/>
<text x="267.4" y="252.2" font-size="9.5" text-anchor="end" fill="#1a1a1a" font-family="'Liberation Sans', Arial, sans-serif" font-weight="bold" stroke="#1a1a1a" stroke-width="0.42">500</text>
<path d="M272.4 325.1h-1.5" stroke="#333" stroke-width="1"/>
<path d="M272.4 294.6h-1.5" stroke="#333" stroke-width="1"/>
<path d="M272.4 264.1h-1.5" stroke="#333" stroke-width="1"/>
<path d="M401.3 333.0h2.5" stroke="#dd2b3b" stroke-width="1.2"/>
<text x="409.2" y="336.4" font-size="9.5" text-anchor="middle" fill="#dd2b3b" font-family="'Liberation Sans', Arial, sans-serif" font-weight="bold" stroke="#dd2b3b" stroke-width="0.42">0</text>
<path d="M401.3 308.5h2.5" stroke="#dd2b3b" stroke-width="1.2"/>
<text x="409.2" y="311.9" font-size="9.5" text-anchor="middle" fill="#dd2b3b" font-family="'Liberation Sans', Arial, sans-serif" font-weight="bold" stroke="#dd2b3b" stroke-width="0.42">5</text>
<path d="M401.3 284.0h2.5" stroke="#dd2b3b" stroke-width="1.2"/>
<text x="409.2" y="287.4" font-size="9.5" text-anchor="middle" fill="#dd2b3b" font-family="'Liberation Sans', Arial, sans-serif" font-weight="bold" stroke="#dd2b3b" stroke-width="0.42">10</text>
<path d="M401.3 259.5h2.5" stroke="#dd2b3b" stroke-width="1.2"/>
<text x="409.2" y="262.9" font-size="9.5" text-anchor="middle" fill="#dd2b3b" font-family="'Liberation Sans', Arial, sans-serif" font-weight="bold" stroke="#dd2b3b" stroke-width="0.42">15</text>
<path d="M401.3 235.0h2.5" stroke="#dd2b3b" stroke-width="1.2"/>
<text x="409.2" y="238.4" font-size="9.5" text-anchor="middle" fill="#dd2b3b" font-family="'Liberation Sans', Arial, sans-serif" font-weight="bold" stroke="#dd2b3b" stroke-width="0.42">20</text>
<path d="M401.3 320.8h1.5" stroke="#dd2b3b" stroke-width="1"/>
<path d="M401.3 296.2h1.5" stroke="#dd2b3b" stroke-width="1"/>
<path d="M401.3 271.8h1.5" stroke="#dd2b3b" stroke-width="1"/>
<path d="M401.3 247.2h1.5" stroke="#dd2b3b" stroke-width="1"/>
<path d="M285.0 340.6v2.5" stroke="#333" stroke-width="1.2"/>
<text x="287.0" y="353.2" font-size="9.5" text-anchor="middle" fill="#1a1a1a" font-family="'Liberation Sans', Arial, sans-serif" font-weight="bold" stroke="#1a1a1a" stroke-width="0.42">0.0</text>
<path d="M311.0 340.6v2.5" stroke="#333" stroke-width="1.2"/>
<text x="313.0" y="353.2" font-size="9.5" text-anchor="middle" fill="#1a1a1a" font-family="'Liberation Sans', Arial, sans-serif" font-weight="bold" stroke="#1a1a1a" stroke-width="0.42">0.5</text>
<path d="M337.0 340.6v2.5" stroke="#333" stroke-width="1.2"/>
<text x="339.0" y="353.2" font-size="9.5" text-anchor="middle" fill="#1a1a1a" font-family="'Liberation Sans', Arial, sans-serif" font-weight="bold" stroke="#1a1a1a" stroke-width="0.42">1.1</text>
<path d="M363.0 340.6v2.5" stroke="#333" stroke-width="1.2"/>
<text x="365.0" y="353.2" font-size="9.5" text-anchor="middle" fill="#1a1a1a" font-family="'Liberation Sans', Arial, sans-serif" font-weight="bold" stroke="#1a1a1a" stroke-width="0.42">1.6</text>
<path d="M389.0 340.6v2.5" stroke="#333" stroke-width="1.2"/>
<text x="391.0" y="353.2" font-size="9.5" text-anchor="middle" fill="#1a1a1a" font-family="'Liberation Sans', Arial, sans-serif" font-weight="bold" stroke="#1a1a1a" stroke-width="0.42">2.1</text>
<path d="M298.0 340.6v1.5" stroke="#333" stroke-width="1"/>
<path d="M324.0 340.6v1.5" stroke="#333" stroke-width="1"/>
<path d="M350.0 340.6v1.5" stroke="#333" stroke-width="1"/>
<path d="M376.0 340.6v1.5" stroke="#333" stroke-width="1"/>
<text x="337.5" y="364.9" font-size="9.67" textLength="124.8" lengthAdjust="spacingAndGlyphs" text-anchor="middle" fill="#1a1a1a" font-family="'Liberation Sans', Arial, sans-serif" font-weight="bold" stroke="#1a1a1a" stroke-width="0.42">Concentration of G (wt%)</text>
<text transform="translate(245.3 289) rotate(-90)" x="0" y="3.8" font-size="10.5" text-anchor="middle" fill="#1a1a1a" font-family="'Liberation Sans', Arial, sans-serif" font-weight="bold" stroke="#1a1a1a" stroke-width="0.42">Diameter (μm)</text>
<text transform="translate(422.6 282) rotate(-90)" x="0" y="3.6" font-size="10.1" text-anchor="middle" fill="#dd2b3b" font-family="'Liberation Sans', Arial, sans-serif" font-weight="bold" stroke="#dd2b3b" stroke-width="0.42">Resistance (MΩ)</text>
<polyline points="285.0,257.5 311.0,326.8 337.0,331.0 363.0,331.5 389.0,331.5" fill="none" stroke="#dd2b3b" stroke-width="1.3"/>
<circle cx="285.0" cy="257.5" r="2.6" fill="#dd2b3b"/>
<circle cx="311.0" cy="326.8" r="2.6" fill="#dd2b3b"/>
<circle cx="337.0" cy="331.0" r="2.6" fill="#dd2b3b"/>
<circle cx="363.0" cy="331.5" r="2.6" fill="#dd2b3b"/>
<circle cx="389.0" cy="331.5" r="2.6" fill="#dd2b3b"/>
<polyline points="285.0,304.6 311.0,293.6 337.0,290.9 363.0,289.1 389.0,287.5" fill="none" stroke="#1a1a1a" stroke-width="1.2"/>
<path d="M285.0 296.7V312.5M283.5 296.7h3M283.5 312.5h3" stroke="#1a1a1a" stroke-width="1"/>
<circle cx="285.0" cy="304.6" r="2.2" fill="#666" stroke="#1a1a1a" stroke-width="1.3"/>
<path d="M311.0 290.6V296.7M309.5 290.6h3M309.5 296.7h3" stroke="#1a1a1a" stroke-width="1"/>
<circle cx="311.0" cy="293.6" r="2.2" fill="#666" stroke="#1a1a1a" stroke-width="1.3"/>
<path d="M337.0 285.4V296.4M335.5 285.4h3M335.5 296.4h3" stroke="#1a1a1a" stroke-width="1"/>
<circle cx="337.0" cy="290.9" r="2.2" fill="#666" stroke="#1a1a1a" stroke-width="1.3"/>
<path d="M363.0 283.3V294.9M361.5 283.3h3M361.5 294.9h3" stroke="#1a1a1a" stroke-width="1"/>
<circle cx="363.0" cy="289.1" r="2.2" fill="#666" stroke="#1a1a1a" stroke-width="1.3"/>
<path d="M389.0 278.1V297.0M387.5 278.1h3M387.5 297.0h3" stroke="#1a1a1a" stroke-width="1"/>
<circle cx="389.0" cy="287.5" r="2.2" fill="#666" stroke="#1a1a1a" stroke-width="1.3"/>
<path d="M321.6 242.1H337.3" stroke="#1a1a1a" stroke-width="1.2"/>
<circle cx="329.5" cy="242.1" r="2.1" fill="#666" stroke="#1a1a1a" stroke-width="1.3"/>
<path d="M321.6 254.1H337.3" stroke="#dd2b3b" stroke-width="1.2"/>
<circle cx="329.5" cy="254.1" r="2.4" fill="#dd2b3b"/>
<text x="341.7" y="246.2" font-size="10.1" fill="#1a1a1a" font-family="'Liberation Sans', Arial, sans-serif" font-weight="bold" stroke="#1a1a1a" stroke-width="0.42">Diameter</text>
<text x="341.7" y="257.1" font-size="10.1" fill="#1a1a1a" font-family="'Liberation Sans', Arial, sans-serif" font-weight="bold" stroke="#1a1a1a" stroke-width="0.42">Resistance</text>
<text x="236" y="233.6" font-size="15.8" fill="#111" font-family="'Liberation Sans', Arial, sans-serif" font-weight="bold" stroke="#111" stroke-width="0.42">(f)</text>
<path d="M617.5 232.3H470.6V340.4H617.5" fill="none" stroke="#333" stroke-width="1.4"/>
<path d="M617.5 231.60000000000002V341.09999999999997" fill="none" stroke="#dd2b3b" stroke-width="1.4"/>
<path d="M470.6 340.3h-2.5" stroke="#333" stroke-width="1.2"/>
<text x="465.6" y="343.7" font-size="9.5" text-anchor="end" fill="#1a1a1a" font-family="'Liberation Sans', Arial, sans-serif" font-weight="bold" stroke="#1a1a1a" stroke-width="0.42">280</text>
<path d="M470.6 320.7h-2.5" stroke="#333" stroke-width="1.2"/>
<text x="465.6" y="324.1" font-size="9.5" text-anchor="end" fill="#1a1a1a" font-family="'Liberation Sans', Arial, sans-serif" font-weight="bold" stroke="#1a1a1a" stroke-width="0.42">320</text>
<path d="M470.6 301.1h-2.5" stroke="#333" stroke-width="1.2"/>
<text x="465.6" y="304.5" font-size="9.5" text-anchor="end" fill="#1a1a1a" font-family="'Liberation Sans', Arial, sans-serif" font-weight="bold" stroke="#1a1a1a" stroke-width="0.42">360</text>
<path d="M470.6 281.4h-2.5" stroke="#333" stroke-width="1.2"/>
<text x="465.6" y="284.8" font-size="9.5" text-anchor="end" fill="#1a1a1a" font-family="'Liberation Sans', Arial, sans-serif" font-weight="bold" stroke="#1a1a1a" stroke-width="0.42">400</text>
<path d="M470.6 261.8h-2.5" stroke="#333" stroke-width="1.2"/>
<text x="465.6" y="265.2" font-size="9.5" text-anchor="end" fill="#1a1a1a" font-family="'Liberation Sans', Arial, sans-serif" font-weight="bold" stroke="#1a1a1a" stroke-width="0.42">440</text>
<path d="M470.6 242.2h-2.5" stroke="#333" stroke-width="1.2"/>
<text x="465.6" y="245.6" font-size="9.5" text-anchor="end" fill="#1a1a1a" font-family="'Liberation Sans', Arial, sans-serif" font-weight="bold" stroke="#1a1a1a" stroke-width="0.42">480</text>
<path d="M470.6 330.5h-1.5" stroke="#333" stroke-width="1"/>
<path d="M470.6 310.9h-1.5" stroke="#333" stroke-width="1"/>
<path d="M470.6 291.2h-1.5" stroke="#333" stroke-width="1"/>
<path d="M470.6 271.6h-1.5" stroke="#333" stroke-width="1"/>
<path d="M470.6 252.0h-1.5" stroke="#333" stroke-width="1"/>
<path d="M617.5 325.7h2.5" stroke="#dd2b3b" stroke-width="1.2"/>
<text x="624.2" y="329.1" font-size="9.5" text-anchor="middle" fill="#dd2b3b" font-family="'Liberation Sans', Arial, sans-serif" font-weight="bold" stroke="#dd2b3b" stroke-width="0.42">1</text>
<path d="M617.5 308.8h2.5" stroke="#dd2b3b" stroke-width="1.2"/>
<text x="624.2" y="312.2" font-size="9.5" text-anchor="middle" fill="#dd2b3b" font-family="'Liberation Sans', Arial, sans-serif" font-weight="bold" stroke="#dd2b3b" stroke-width="0.42">2</text>
<path d="M617.5 291.9h2.5" stroke="#dd2b3b" stroke-width="1.2"/>
<text x="624.2" y="295.3" font-size="9.5" text-anchor="middle" fill="#dd2b3b" font-family="'Liberation Sans', Arial, sans-serif" font-weight="bold" stroke="#dd2b3b" stroke-width="0.42">3</text>
<path d="M617.5 274.9h2.5" stroke="#dd2b3b" stroke-width="1.2"/>
<text x="624.2" y="278.3" font-size="9.5" text-anchor="middle" fill="#dd2b3b" font-family="'Liberation Sans', Arial, sans-serif" font-weight="bold" stroke="#dd2b3b" stroke-width="0.42">4</text>
<path d="M617.5 258.0h2.5" stroke="#dd2b3b" stroke-width="1.2"/>
<text x="624.2" y="261.4" font-size="9.5" text-anchor="middle" fill="#dd2b3b" font-family="'Liberation Sans', Arial, sans-serif" font-weight="bold" stroke="#dd2b3b" stroke-width="0.42">5</text>
<path d="M617.5 241.1h2.5" stroke="#dd2b3b" stroke-width="1.2"/>
<text x="624.2" y="244.5" font-size="9.5" text-anchor="middle" fill="#dd2b3b" font-family="'Liberation Sans', Arial, sans-serif" font-weight="bold" stroke="#dd2b3b" stroke-width="0.42">6</text>
<path d="M617.5 317.2h1.5" stroke="#dd2b3b" stroke-width="1"/>
<path d="M617.5 300.3h1.5" stroke="#dd2b3b" stroke-width="1"/>
<path d="M617.5 283.4h1.5" stroke="#dd2b3b" stroke-width="1"/>
<path d="M617.5 266.5h1.5" stroke="#dd2b3b" stroke-width="1"/>
<path d="M617.5 249.6h1.5" stroke="#dd2b3b" stroke-width="1"/>
<path d="M485.3 340.4v2.5" stroke="#333" stroke-width="1.2"/>
<text x="486.8" y="353.2" font-size="9.5" text-anchor="middle" fill="#1a1a1a" font-family="'Liberation Sans', Arial, sans-serif" font-weight="bold" stroke="#1a1a1a" stroke-width="0.42">1.1</text>
<path d="M514.4 340.4v2.5" stroke="#333" stroke-width="1.2"/>
<text x="515.9" y="353.2" font-size="9.5" text-anchor="middle" fill="#1a1a1a" font-family="'Liberation Sans', Arial, sans-serif" font-weight="bold" stroke="#1a1a1a" stroke-width="0.42">2.1</text>
<path d="M543.6 340.4v2.5" stroke="#333" stroke-width="1.2"/>
<text x="545.1" y="353.2" font-size="9.5" text-anchor="middle" fill="#1a1a1a" font-family="'Liberation Sans', Arial, sans-serif" font-weight="bold" stroke="#1a1a1a" stroke-width="0.42">3.1</text>
<path d="M572.9 340.4v2.5" stroke="#333" stroke-width="1.2"/>
<text x="574.4" y="353.2" font-size="9.5" text-anchor="middle" fill="#1a1a1a" font-family="'Liberation Sans', Arial, sans-serif" font-weight="bold" stroke="#1a1a1a" stroke-width="0.42">4.1</text>
<path d="M602.2 340.4v2.5" stroke="#333" stroke-width="1.2"/>
<text x="603.7" y="353.2" font-size="9.5" text-anchor="middle" fill="#1a1a1a" font-family="'Liberation Sans', Arial, sans-serif" font-weight="bold" stroke="#1a1a1a" stroke-width="0.42">5.1</text>
<path d="M499.9 340.4v1.5" stroke="#333" stroke-width="1"/>
<path d="M529.0 340.4v1.5" stroke="#333" stroke-width="1"/>
<path d="M558.2 340.4v1.5" stroke="#333" stroke-width="1"/>
<path d="M587.5 340.4v1.5" stroke="#333" stroke-width="1"/>
<text x="548.8" y="364.9" font-size="9.67" textLength="143.7" lengthAdjust="spacingAndGlyphs" text-anchor="middle" fill="#1a1a1a" font-family="'Liberation Sans', Arial, sans-serif" font-weight="bold" stroke="#1a1a1a" stroke-width="0.42">Concentration of PANI (wt %)</text>
<text transform="translate(440.7 281) rotate(-90)" x="0" y="3.5" font-size="9.9" text-anchor="middle" fill="#1a1a1a" font-family="'Liberation Sans', Arial, sans-serif" font-weight="bold" stroke="#1a1a1a" stroke-width="0.42">Diameter (μm)</text>
<text transform="translate(638 279.5) rotate(-90)" x="0" y="3.6" font-size="10.1" text-anchor="middle" fill="#dd2b3b" font-family="'Liberation Sans', Arial, sans-serif" font-weight="bold" stroke="#dd2b3b" stroke-width="0.42">Resistance (MΩ)</text>
<polyline points="485.3,319.6 514.4,321.5 543.6,324.9 572.9,306.6 602.2,303.2" fill="none" stroke="#dd2b3b" stroke-width="1.3"/>
<circle cx="485.3" cy="319.6" r="2.6" fill="#dd2b3b"/>
<circle cx="514.4" cy="321.5" r="2.6" fill="#dd2b3b"/>
<circle cx="543.6" cy="324.9" r="2.6" fill="#dd2b3b"/>
<circle cx="572.9" cy="306.6" r="2.6" fill="#dd2b3b"/>
<path d="M602.2 300.7V305.7M600.7 300.7h3M600.7 305.7h3" stroke="#dd2b3b" stroke-width="1"/>
<circle cx="602.2" cy="303.2" r="2.6" fill="#dd2b3b"/>
<polyline points="485.3,278.7 514.4,274.1 543.6,271.3 572.9,271.1 602.2,266.7" fill="none" stroke="#1a1a1a" stroke-width="1.2"/>
<path d="M485.3 271.8V285.6M483.8 271.8h3M483.8 285.6h3" stroke="#1a1a1a" stroke-width="1"/>
<circle cx="485.3" cy="278.7" r="2.2" fill="#666" stroke="#1a1a1a" stroke-width="1.3"/>
<path d="M514.4 270.2V278.0M512.9 270.2h3M512.9 278.0h3" stroke="#1a1a1a" stroke-width="1"/>
<circle cx="514.4" cy="274.1" r="2.2" fill="#666" stroke="#1a1a1a" stroke-width="1.3"/>
<path d="M543.6 262.9V279.6M542.1 262.9h3M542.1 279.6h3" stroke="#1a1a1a" stroke-width="1"/>
<circle cx="543.6" cy="271.3" r="2.2" fill="#666" stroke="#1a1a1a" stroke-width="1.3"/>
<path d="M572.9 259.9V282.4M571.4 259.9h3M571.4 282.4h3" stroke="#1a1a1a" stroke-width="1"/>
<circle cx="572.9" cy="271.1" r="2.2" fill="#666" stroke="#1a1a1a" stroke-width="1.3"/>
<path d="M602.2 257.4V276.0M600.7 257.4h3M600.7 276.0h3" stroke="#1a1a1a" stroke-width="1"/>
<circle cx="602.2" cy="266.7" r="2.2" fill="#666" stroke="#1a1a1a" stroke-width="1.3"/>
<path d="M533.5 241H552.6" stroke="#1a1a1a" stroke-width="1.2"/>
<circle cx="543.0" cy="241" r="2.1" fill="#666" stroke="#1a1a1a" stroke-width="1.3"/>
<path d="M533.5 251.5H552.6" stroke="#dd2b3b" stroke-width="1.2"/>
<circle cx="543.0" cy="251.5" r="2.4" fill="#dd2b3b"/>
<text x="556.9" y="244.4" font-size="10.1" fill="#1a1a1a" font-family="'Liberation Sans', Arial, sans-serif" font-weight="bold" stroke="#1a1a1a" stroke-width="0.42">Diameter</text>
<text x="556.9" y="255.3" font-size="10.1" fill="#1a1a1a" font-family="'Liberation Sans', Arial, sans-serif" font-weight="bold" stroke="#1a1a1a" stroke-width="0.42">Resistance</text>
<text x="431" y="233.6" font-size="15.8" fill="#111" font-family="'Liberation Sans', Arial, sans-serif" font-weight="bold" stroke="#111" stroke-width="0.42">(g)</text>
<path d="M207.4 382.3H61.6V489.7H207.4" fill="none" stroke="#333" stroke-width="1.4"/>
<path d="M207.4 381.6V490.4" fill="none" stroke="#dd2b3b" stroke-width="1.4"/>
<path d="M61.6 477.5h-2.5" stroke="#333" stroke-width="1.2"/>
<text x="56.6" y="480.9" font-size="9.5" text-anchor="end" fill="#1a1a1a" font-family="'Liberation Sans', Arial, sans-serif" font-weight="bold" stroke="#1a1a1a" stroke-width="0.42">200</text>
<path d="M61.6 453.8h-2.5" stroke="#333" stroke-width="1.2"/>
<text x="56.6" y="457.2" font-size="9.5" text-anchor="end" fill="#1a1a1a" font-family="'Liberation Sans', Arial, sans-serif" font-weight="bold" stroke="#1a1a1a" stroke-width="0.42">400</text>
<path d="M61.6 430.0h-2.5" stroke="#333" stroke-width="1.2"/>
<text x="56.6" y="433.4" font-size="9.5" text-anchor="end" fill="#1a1a1a" font-family="'Liberation Sans', Arial, sans-serif" font-weight="bold" stroke="#1a1a1a" stroke-width="0.42">600</text>
<path d="M61.6 406.3h-2.5" stroke="#333" stroke-width="1.2"/>
<text x="56.6" y="409.7" font-size="9.5" text-anchor="end" fill="#1a1a1a" font-family="'Liberation Sans', Arial, sans-serif" font-weight="bold" stroke="#1a1a1a" stroke-width="0.42">800</text>
<path d="M61.6 382.5h-2.5" stroke="#333" stroke-width="1.2"/>
<text x="56.6" y="385.9" font-size="9.5" text-anchor="end" fill="#1a1a1a" font-family="'Liberation Sans', Arial, sans-serif" font-weight="bold" stroke="#1a1a1a" stroke-width="0.42">1000</text>
<path d="M61.6 465.6h-1.5" stroke="#333" stroke-width="1"/>
<path d="M61.6 441.9h-1.5" stroke="#333" stroke-width="1"/>
<path d="M61.6 418.1h-1.5" stroke="#333" stroke-width="1"/>
<path d="M61.6 394.4h-1.5" stroke="#333" stroke-width="1"/>
<path d="M207.4 482.7h2.5" stroke="#dd2b3b" stroke-width="1.2"/>
<text x="215.4" y="486.1" font-size="9.5" text-anchor="middle" fill="#dd2b3b" font-family="'Liberation Sans', Arial, sans-serif" font-weight="bold" stroke="#dd2b3b" stroke-width="0.42">0</text>
<path d="M207.4 460.1h2.5" stroke="#dd2b3b" stroke-width="1.2"/>
<text x="215.4" y="463.5" font-size="9.5" text-anchor="middle" fill="#dd2b3b" font-family="'Liberation Sans', Arial, sans-serif" font-weight="bold" stroke="#dd2b3b" stroke-width="0.42">1</text>
<path d="M207.4 437.4h2.5" stroke="#dd2b3b" stroke-width="1.2"/>
<text x="215.4" y="440.9" font-size="9.5" text-anchor="middle" fill="#dd2b3b" font-family="'Liberation Sans', Arial, sans-serif" font-weight="bold" stroke="#dd2b3b" stroke-width="0.42">2</text>
<path d="M207.4 414.8h2.5" stroke="#dd2b3b" stroke-width="1.2"/>
<text x="215.4" y="418.2" font-size="9.5" text-anchor="middle" fill="#dd2b3b" font-family="'Liberation Sans', Arial, sans-serif" font-weight="bold" stroke="#dd2b3b" stroke-width="0.42">3</text>
<path d="M207.4 392.2h2.5" stroke="#dd2b3b" stroke-width="1.2"/>
<text x="215.4" y="395.6" font-size="9.5" text-anchor="middle" fill="#dd2b3b" font-family="'Liberation Sans', Arial, sans-serif" font-weight="bold" stroke="#dd2b3b" stroke-width="0.42">4</text>
<path d="M207.4 471.4h1.5" stroke="#dd2b3b" stroke-width="1"/>
<path d="M207.4 448.8h1.5" stroke="#dd2b3b" stroke-width="1"/>
<path d="M207.4 426.1h1.5" stroke="#dd2b3b" stroke-width="1"/>
<path d="M207.4 403.5h1.5" stroke="#dd2b3b" stroke-width="1"/>
<path d="M76.3 489.7v2.5" stroke="#333" stroke-width="1.2"/>
<text x="79.0" y="503.2" font-size="9.5" text-anchor="middle" fill="#1a1a1a" font-family="'Liberation Sans', Arial, sans-serif" font-weight="bold" stroke="#1a1a1a" stroke-width="0.42">0.5</text>
<path d="M105.4 489.7v2.5" stroke="#333" stroke-width="1.2"/>
<text x="108.1" y="503.2" font-size="9.5" text-anchor="middle" fill="#1a1a1a" font-family="'Liberation Sans', Arial, sans-serif" font-weight="bold" stroke="#1a1a1a" stroke-width="0.42">1.0</text>
<path d="M134.5 489.7v2.5" stroke="#333" stroke-width="1.2"/>
<text x="137.2" y="503.2" font-size="9.5" text-anchor="middle" fill="#1a1a1a" font-family="'Liberation Sans', Arial, sans-serif" font-weight="bold" stroke="#1a1a1a" stroke-width="0.42">1.5</text>
<path d="M163.6 489.7v2.5" stroke="#333" stroke-width="1.2"/>
<text x="166.3" y="503.2" font-size="9.5" text-anchor="middle" fill="#1a1a1a" font-family="'Liberation Sans', Arial, sans-serif" font-weight="bold" stroke="#1a1a1a" stroke-width="0.42">2.0</text>
<path d="M192.6 489.7v2.5" stroke="#333" stroke-width="1.2"/>
<text x="195.3" y="503.2" font-size="9.5" text-anchor="middle" fill="#1a1a1a" font-family="'Liberation Sans', Arial, sans-serif" font-weight="bold" stroke="#1a1a1a" stroke-width="0.42">2.5</text>
<path d="M90.8 489.7v1.5" stroke="#333" stroke-width="1"/>
<path d="M120.0 489.7v1.5" stroke="#333" stroke-width="1"/>
<path d="M149.1 489.7v1.5" stroke="#333" stroke-width="1"/>
<path d="M178.1 489.7v1.5" stroke="#333" stroke-width="1"/>
<path d="M61.8 489.7v1.5" stroke="#333" stroke-width="1"/>
<path d="M207.1 489.7v1.5" stroke="#333" stroke-width="1"/>
<text x="135.9" y="515.3" font-size="9.67" textLength="76.8" lengthAdjust="spacingAndGlyphs" text-anchor="middle" fill="#1a1a1a" font-family="'Liberation Sans', Arial, sans-serif" font-weight="bold" stroke="#1a1a1a" stroke-width="0.42">Flow rate (ml/h)</text>
<text transform="translate(33 431.8) rotate(-90)" x="0" y="3.7" font-size="10.4" text-anchor="middle" fill="#1a1a1a" font-family="'Liberation Sans', Arial, sans-serif" font-weight="bold" stroke="#1a1a1a" stroke-width="0.42">Diameter (μm)</text>
<text transform="translate(223.7 432.3) rotate(-90)" x="0" y="3.6" font-size="10.1" text-anchor="middle" fill="#dd2b3b" font-family="'Liberation Sans', Arial, sans-serif" font-weight="bold" stroke="#dd2b3b" stroke-width="0.42">Resistance (MΩ)</text>
<polyline points="76.3,414.4 105.4,459.4 134.5,462.3 163.6,475.9 192.6,481.6" fill="none" stroke="#dd2b3b" stroke-width="1.3"/>
<circle cx="76.3" cy="414.4" r="2.6" fill="#dd2b3b"/>
<circle cx="105.4" cy="459.4" r="2.6" fill="#dd2b3b"/>
<circle cx="134.5" cy="462.3" r="2.6" fill="#dd2b3b"/>
<circle cx="163.6" cy="475.9" r="2.6" fill="#dd2b3b"/>
<circle cx="192.6" cy="481.6" r="2.6" fill="#dd2b3b"/>
<polyline points="76.3,471.5 105.4,469.8 134.5,459.3 163.6,450.9 192.6,409.2" fill="none" stroke="#1a1a1a" stroke-width="1.2"/>
<circle cx="76.3" cy="471.5" r="2.2" fill="#666" stroke="#1a1a1a" stroke-width="1.3"/>
<path d="M105.4 468.9V470.8M103.9 468.9h3M103.9 470.8h3" stroke="#1a1a1a" stroke-width="1"/>
<circle cx="105.4" cy="469.8" r="2.2" fill="#666" stroke="#1a1a1a" stroke-width="1.3"/>
<path d="M134.5 458.4V460.3M133.0 458.4h3M133.0 460.3h3" stroke="#1a1a1a" stroke-width="1"/>
<circle cx="134.5" cy="459.3" r="2.2" fill="#666" stroke="#1a1a1a" stroke-width="1.3"/>
<path d="M163.6 448.5V453.3M162.1 448.5h3M162.1 453.3h3" stroke="#1a1a1a" stroke-width="1"/>
<circle cx="163.6" cy="450.9" r="2.2" fill="#666" stroke="#1a1a1a" stroke-width="1.3"/>
<path d="M192.6 407.4V411.0M191.1 407.4h3M191.1 411.0h3" stroke="#1a1a1a" stroke-width="1"/>
<circle cx="192.6" cy="409.2" r="2.2" fill="#666" stroke="#1a1a1a" stroke-width="1.3"/>
<path d="M129.5 389.3H145.6" stroke="#1a1a1a" stroke-width="1.2"/>
<circle cx="137.6" cy="389.3" r="2.1" fill="#666" stroke="#1a1a1a" stroke-width="1.3"/>
<path d="M129.5 401.9H145.6" stroke="#dd2b3b" stroke-width="1.2"/>
<circle cx="137.6" cy="401.9" r="2.4" fill="#dd2b3b"/>
<text x="149.5" y="391.9" font-size="10.1" fill="#1a1a1a" font-family="'Liberation Sans', Arial, sans-serif" font-weight="bold" stroke="#1a1a1a" stroke-width="0.42">Diameter</text>
<text x="149.5" y="403.8" font-size="10.1" fill="#1a1a1a" font-family="'Liberation Sans', Arial, sans-serif" font-weight="bold" stroke="#1a1a1a" stroke-width="0.42">Resistance</text>
<text x="14.5" y="383.8" font-size="15.8" fill="#111" font-family="'Liberation Sans', Arial, sans-serif" font-weight="bold" stroke="#111" stroke-width="0.42">(h)</text>
<path d="M400 382.5H272.3V489.6H400" fill="none" stroke="#333" stroke-width="1.4"/>
<path d="M400 381.8V490.3" fill="none" stroke="#dd2b3b" stroke-width="1.4"/>
<path d="M272.3 486.7h-2.5" stroke="#333" stroke-width="1.2"/>
<text x="267.3" y="490.1" font-size="9.5" text-anchor="end" fill="#1a1a1a" font-family="'Liberation Sans', Arial, sans-serif" font-weight="bold" stroke="#1a1a1a" stroke-width="0.42">150</text>
<path d="M272.3 466.3h-2.5" stroke="#333" stroke-width="1.2"/>
<text x="267.3" y="469.7" font-size="9.5" text-anchor="end" fill="#1a1a1a" font-family="'Liberation Sans', Arial, sans-serif" font-weight="bold" stroke="#1a1a1a" stroke-width="0.42">200</text>
<path d="M272.3 445.9h-2.5" stroke="#333" stroke-width="1.2"/>
<text x="267.3" y="449.3" font-size="9.5" text-anchor="end" fill="#1a1a1a" font-family="'Liberation Sans', Arial, sans-serif" font-weight="bold" stroke="#1a1a1a" stroke-width="0.42">250</text>
<path d="M272.3 425.6h-2.5" stroke="#333" stroke-width="1.2"/>
<text x="267.3" y="429.0" font-size="9.5" text-anchor="end" fill="#1a1a1a" font-family="'Liberation Sans', Arial, sans-serif" font-weight="bold" stroke="#1a1a1a" stroke-width="0.42">300</text>
<path d="M272.3 405.2h-2.5" stroke="#333" stroke-width="1.2"/>
<text x="267.3" y="408.6" font-size="9.5" text-anchor="end" fill="#1a1a1a" font-family="'Liberation Sans', Arial, sans-serif" font-weight="bold" stroke="#1a1a1a" stroke-width="0.42">350</text>
<path d="M272.3 384.8h-2.5" stroke="#333" stroke-width="1.2"/>
<text x="267.3" y="388.2" font-size="9.5" text-anchor="end" fill="#1a1a1a" font-family="'Liberation Sans', Arial, sans-serif" font-weight="bold" stroke="#1a1a1a" stroke-width="0.42">400</text>
<path d="M272.3 476.5h-1.5" stroke="#333" stroke-width="1"/>
<path d="M272.3 456.1h-1.5" stroke="#333" stroke-width="1"/>
<path d="M272.3 435.8h-1.5" stroke="#333" stroke-width="1"/>
<path d="M272.3 415.4h-1.5" stroke="#333" stroke-width="1"/>
<path d="M272.3 395.0h-1.5" stroke="#333" stroke-width="1"/>
<path d="M400 488.3h2.5" stroke="#dd2b3b" stroke-width="1.2"/>
<text x="410.4" y="491.7" font-size="9.5" text-anchor="middle" fill="#dd2b3b" font-family="'Liberation Sans', Arial, sans-serif" font-weight="bold" stroke="#dd2b3b" stroke-width="0.42">0.6</text>
<path d="M400 473.3h2.5" stroke="#dd2b3b" stroke-width="1.2"/>
<text x="410.4" y="476.7" font-size="9.5" text-anchor="middle" fill="#dd2b3b" font-family="'Liberation Sans', Arial, sans-serif" font-weight="bold" stroke="#dd2b3b" stroke-width="0.42">0.8</text>
<path d="M400 458.3h2.5" stroke="#dd2b3b" stroke-width="1.2"/>
<text x="410.4" y="461.7" font-size="9.5" text-anchor="middle" fill="#dd2b3b" font-family="'Liberation Sans', Arial, sans-serif" font-weight="bold" stroke="#dd2b3b" stroke-width="0.42">1.0</text>
<path d="M400 443.3h2.5" stroke="#dd2b3b" stroke-width="1.2"/>
<text x="410.4" y="446.7" font-size="9.5" text-anchor="middle" fill="#dd2b3b" font-family="'Liberation Sans', Arial, sans-serif" font-weight="bold" stroke="#dd2b3b" stroke-width="0.42">1.2</text>
<path d="M400 428.3h2.5" stroke="#dd2b3b" stroke-width="1.2"/>
<text x="410.4" y="431.7" font-size="9.5" text-anchor="middle" fill="#dd2b3b" font-family="'Liberation Sans', Arial, sans-serif" font-weight="bold" stroke="#dd2b3b" stroke-width="0.42">1.4</text>
<path d="M400 413.3h2.5" stroke="#dd2b3b" stroke-width="1.2"/>
<text x="410.4" y="416.7" font-size="9.5" text-anchor="middle" fill="#dd2b3b" font-family="'Liberation Sans', Arial, sans-serif" font-weight="bold" stroke="#dd2b3b" stroke-width="0.42">1.6</text>
<path d="M400 398.3h2.5" stroke="#dd2b3b" stroke-width="1.2"/>
<text x="410.4" y="401.7" font-size="9.5" text-anchor="middle" fill="#dd2b3b" font-family="'Liberation Sans', Arial, sans-serif" font-weight="bold" stroke="#dd2b3b" stroke-width="0.42">1.8</text>
<path d="M400 383.3h2.5" stroke="#dd2b3b" stroke-width="1.2"/>
<text x="410.4" y="386.7" font-size="9.5" text-anchor="middle" fill="#dd2b3b" font-family="'Liberation Sans', Arial, sans-serif" font-weight="bold" stroke="#dd2b3b" stroke-width="0.42">2.0</text>
<path d="M400 480.8h1.5" stroke="#dd2b3b" stroke-width="1"/>
<path d="M400 465.8h1.5" stroke="#dd2b3b" stroke-width="1"/>
<path d="M400 450.8h1.5" stroke="#dd2b3b" stroke-width="1"/>
<path d="M400 435.8h1.5" stroke="#dd2b3b" stroke-width="1"/>
<path d="M400 420.8h1.5" stroke="#dd2b3b" stroke-width="1"/>
<path d="M400 405.8h1.5" stroke="#dd2b3b" stroke-width="1"/>
<path d="M400 390.8h1.5" stroke="#dd2b3b" stroke-width="1"/>
<path d="M285.3 489.6v2.5" stroke="#333" stroke-width="1.2"/>
<text x="287.1" y="503.2" font-size="9.5" text-anchor="middle" fill="#1a1a1a" font-family="'Liberation Sans', Arial, sans-serif" font-weight="bold" stroke="#1a1a1a" stroke-width="0.42">0.0</text>
<path d="M310.3 489.6v2.5" stroke="#333" stroke-width="1.2"/>
<text x="312.1" y="503.2" font-size="9.5" text-anchor="middle" fill="#1a1a1a" font-family="'Liberation Sans', Arial, sans-serif" font-weight="bold" stroke="#1a1a1a" stroke-width="0.42">0.5</text>
<path d="M335.3 489.6v2.5" stroke="#333" stroke-width="1.2"/>
<text x="337.1" y="503.2" font-size="9.5" text-anchor="middle" fill="#1a1a1a" font-family="'Liberation Sans', Arial, sans-serif" font-weight="bold" stroke="#1a1a1a" stroke-width="0.42">1.0</text>
<path d="M360.3 489.6v2.5" stroke="#333" stroke-width="1.2"/>
<text x="362.1" y="503.2" font-size="9.5" text-anchor="middle" fill="#1a1a1a" font-family="'Liberation Sans', Arial, sans-serif" font-weight="bold" stroke="#1a1a1a" stroke-width="0.42">1.5</text>
<path d="M385.3 489.6v2.5" stroke="#333" stroke-width="1.2"/>
<text x="387.1" y="503.2" font-size="9.5" text-anchor="middle" fill="#1a1a1a" font-family="'Liberation Sans', Arial, sans-serif" font-weight="bold" stroke="#1a1a1a" stroke-width="0.42">2.0</text>
<path d="M297.8 489.6v1.5" stroke="#333" stroke-width="1"/>
<path d="M322.8 489.6v1.5" stroke="#333" stroke-width="1"/>
<path d="M347.8 489.6v1.5" stroke="#333" stroke-width="1"/>
<path d="M372.8 489.6v1.5" stroke="#333" stroke-width="1"/>
<text x="336.6" y="515.2" font-size="10.14" textLength="121.5" lengthAdjust="spacingAndGlyphs" text-anchor="middle" fill="#1a1a1a" font-family="'Liberation Sans', Arial, sans-serif" font-weight="bold" stroke="#1a1a1a" stroke-width="0.42">Working Distance (mm)</text>
<text transform="translate(244.1 433.5) rotate(-90)" x="0" y="3.7" font-size="10.4" text-anchor="middle" fill="#1a1a1a" font-family="'Liberation Sans', Arial, sans-serif" font-weight="bold" stroke="#1a1a1a" stroke-width="0.42">Diameter (μm)</text>
<text transform="translate(424.3 431.2) rotate(-90)" x="0" y="3.6" font-size="10.1" text-anchor="middle" fill="#dd2b3b" font-family="'Liberation Sans', Arial, sans-serif" font-weight="bold" stroke="#dd2b3b" stroke-width="0.42">Resistance (MΩ)</text>
<polyline points="290.3,464.5 310.3,457.6 335.3,441.8 360.3,426.8 385.3,413.3" fill="none" stroke="#dd2b3b" stroke-width="1.3"/>
<circle cx="290.3" cy="464.5" r="2.6" fill="#dd2b3b"/>
<circle cx="310.3" cy="457.6" r="2.6" fill="#dd2b3b"/>
<circle cx="335.3" cy="441.8" r="2.6" fill="#dd2b3b"/>
<circle cx="360.3" cy="426.8" r="2.6" fill="#dd2b3b"/>
<circle cx="385.3" cy="413.3" r="2.6" fill="#dd2b3b"/>
<polyline points="290.3,402.3 310.3,439.8 335.3,458.2 360.3,464.9 385.3,467.5" fill="none" stroke="#1a1a1a" stroke-width="1.2"/>
<path d="M290.3 399.1V405.6M288.8 399.1h3M288.8 405.6h3" stroke="#1a1a1a" stroke-width="1"/>
<circle cx="290.3" cy="402.3" r="2.2" fill="#666" stroke="#1a1a1a" stroke-width="1.3"/>
<path d="M310.3 433.7V445.9M308.8 433.7h3M308.8 445.9h3" stroke="#1a1a1a" stroke-width="1"/>
<circle cx="310.3" cy="439.8" r="2.2" fill="#666" stroke="#1a1a1a" stroke-width="1.3"/>
<path d="M335.3 453.3V463.1M333.8 453.3h3M333.8 463.1h3" stroke="#1a1a1a" stroke-width="1"/>
<circle cx="335.3" cy="458.2" r="2.2" fill="#666" stroke="#1a1a1a" stroke-width="1.3"/>
<path d="M360.3 460.8V469.0M358.8 460.8h3M358.8 469.0h3" stroke="#1a1a1a" stroke-width="1"/>
<circle cx="360.3" cy="464.9" r="2.2" fill="#666" stroke="#1a1a1a" stroke-width="1.3"/>
<path d="M385.3 457.8V477.3M383.8 457.8h3M383.8 477.3h3" stroke="#1a1a1a" stroke-width="1"/>
<circle cx="385.3" cy="467.5" r="2.2" fill="#666" stroke="#1a1a1a" stroke-width="1.3"/>
<path d="M321.6 392.3H338" stroke="#1a1a1a" stroke-width="1.2"/>
<circle cx="329.8" cy="392.3" r="2.1" fill="#666" stroke="#1a1a1a" stroke-width="1.3"/>
<path d="M321.6 404.1H338" stroke="#dd2b3b" stroke-width="1.2"/>
<circle cx="329.8" cy="404.1" r="2.4" fill="#dd2b3b"/>
<text x="341.7" y="394.3" font-size="10.1" fill="#1a1a1a" font-family="'Liberation Sans', Arial, sans-serif" font-weight="bold" stroke="#1a1a1a" stroke-width="0.42">Diameter</text>
<text x="341.7" y="406.2" font-size="10.1" fill="#1a1a1a" font-family="'Liberation Sans', Arial, sans-serif" font-weight="bold" stroke="#1a1a1a" stroke-width="0.42">Resistance</text>
<text x="235" y="383.8" font-size="15.8" fill="#111" font-family="'Liberation Sans', Arial, sans-serif" font-weight="bold" stroke="#111" stroke-width="0.42">(i)</text>
<path d="M617.2 382.1H470.6V489.6H617.2" fill="none" stroke="#333" stroke-width="1.4"/>
<path d="M617.2 381.40000000000003V490.3" fill="none" stroke="#dd2b3b" stroke-width="1.4"/>
<path d="M470.6 489.2h-2.5" stroke="#333" stroke-width="1.2"/>
<text x="465.6" y="492.6" font-size="9.5" text-anchor="end" fill="#1a1a1a" font-family="'Liberation Sans', Arial, sans-serif" font-weight="bold" stroke="#1a1a1a" stroke-width="0.42">100</text>
<path d="M470.6 474.6h-2.5" stroke="#333" stroke-width="1.2"/>
<text x="465.6" y="478.0" font-size="9.5" text-anchor="end" fill="#1a1a1a" font-family="'Liberation Sans', Arial, sans-serif" font-weight="bold" stroke="#1a1a1a" stroke-width="0.42">150</text>
<path d="M470.6 459.9h-2.5" stroke="#333" stroke-width="1.2"/>
<text x="465.6" y="463.3" font-size="9.5" text-anchor="end" fill="#1a1a1a" font-family="'Liberation Sans', Arial, sans-serif" font-weight="bold" stroke="#1a1a1a" stroke-width="0.42">200</text>
<path d="M470.6 445.3h-2.5" stroke="#333" stroke-width="1.2"/>
<text x="465.6" y="448.7" font-size="9.5" text-anchor="end" fill="#1a1a1a" font-family="'Liberation Sans', Arial, sans-serif" font-weight="bold" stroke="#1a1a1a" stroke-width="0.42">250</text>
<path d="M470.6 430.6h-2.5" stroke="#333" stroke-width="1.2"/>
<text x="465.6" y="434.0" font-size="9.5" text-anchor="end" fill="#1a1a1a" font-family="'Liberation Sans', Arial, sans-serif" font-weight="bold" stroke="#1a1a1a" stroke-width="0.42">300</text>
<path d="M470.6 416.0h-2.5" stroke="#333" stroke-width="1.2"/>
<text x="465.6" y="419.4" font-size="9.5" text-anchor="end" fill="#1a1a1a" font-family="'Liberation Sans', Arial, sans-serif" font-weight="bold" stroke="#1a1a1a" stroke-width="0.42">350</text>
<path d="M470.6 401.3h-2.5" stroke="#333" stroke-width="1.2"/>
<text x="465.6" y="404.7" font-size="9.5" text-anchor="end" fill="#1a1a1a" font-family="'Liberation Sans', Arial, sans-serif" font-weight="bold" stroke="#1a1a1a" stroke-width="0.42">400</text>
<path d="M470.6 386.7h-2.5" stroke="#333" stroke-width="1.2"/>
<text x="465.6" y="390.1" font-size="9.5" text-anchor="end" fill="#1a1a1a" font-family="'Liberation Sans', Arial, sans-serif" font-weight="bold" stroke="#1a1a1a" stroke-width="0.42">450</text>
<path d="M617.2 486.9h2.5" stroke="#dd2b3b" stroke-width="1.2"/>
<text x="625.4" y="490.3" font-size="9.5" text-anchor="middle" fill="#dd2b3b" font-family="'Liberation Sans', Arial, sans-serif" font-weight="bold" stroke="#dd2b3b" stroke-width="0.42">0</text>
<path d="M617.2 472.7h2.5" stroke="#dd2b3b" stroke-width="1.2"/>
<text x="625.4" y="476.1" font-size="9.5" text-anchor="middle" fill="#dd2b3b" font-family="'Liberation Sans', Arial, sans-serif" font-weight="bold" stroke="#dd2b3b" stroke-width="0.42">4</text>
<path d="M617.2 458.5h2.5" stroke="#dd2b3b" stroke-width="1.2"/>
<text x="625.4" y="461.9" font-size="9.5" text-anchor="middle" fill="#dd2b3b" font-family="'Liberation Sans', Arial, sans-serif" font-weight="bold" stroke="#dd2b3b" stroke-width="0.42">8</text>
<path d="M617.2 444.3h2.5" stroke="#dd2b3b" stroke-width="1.2"/>
<text x="625.4" y="447.7" font-size="9.5" text-anchor="middle" fill="#dd2b3b" font-family="'Liberation Sans', Arial, sans-serif" font-weight="bold" stroke="#dd2b3b" stroke-width="0.42">12</text>
<path d="M617.2 430.1h2.5" stroke="#dd2b3b" stroke-width="1.2"/>
<text x="625.4" y="433.5" font-size="9.5" text-anchor="middle" fill="#dd2b3b" font-family="'Liberation Sans', Arial, sans-serif" font-weight="bold" stroke="#dd2b3b" stroke-width="0.42">16</text>
<path d="M617.2 415.9h2.5" stroke="#dd2b3b" stroke-width="1.2"/>
<text x="625.4" y="419.3" font-size="9.5" text-anchor="middle" fill="#dd2b3b" font-family="'Liberation Sans', Arial, sans-serif" font-weight="bold" stroke="#dd2b3b" stroke-width="0.42">20</text>
<path d="M617.2 401.7h2.5" stroke="#dd2b3b" stroke-width="1.2"/>
<text x="625.4" y="405.1" font-size="9.5" text-anchor="middle" fill="#dd2b3b" font-family="'Liberation Sans', Arial, sans-serif" font-weight="bold" stroke="#dd2b3b" stroke-width="0.42">24</text>
<path d="M617.2 387.5h2.5" stroke="#dd2b3b" stroke-width="1.2"/>
<text x="625.4" y="390.9" font-size="9.5" text-anchor="middle" fill="#dd2b3b" font-family="'Liberation Sans', Arial, sans-serif" font-weight="bold" stroke="#dd2b3b" stroke-width="0.42">28</text>
<path d="M617.2 479.8h1.5" stroke="#dd2b3b" stroke-width="1"/>
<path d="M617.2 465.6h1.5" stroke="#dd2b3b" stroke-width="1"/>
<path d="M617.2 451.4h1.5" stroke="#dd2b3b" stroke-width="1"/>
<path d="M617.2 437.2h1.5" stroke="#dd2b3b" stroke-width="1"/>
<path d="M617.2 423.0h1.5" stroke="#dd2b3b" stroke-width="1"/>
<path d="M617.2 408.8h1.5" stroke="#dd2b3b" stroke-width="1"/>
<path d="M617.2 394.6h1.5" stroke="#dd2b3b" stroke-width="1"/>
<path d="M470.6 489.6v2.5" stroke="#333" stroke-width="1.2"/>
<text x="472.1" y="503.2" font-size="9.5" text-anchor="middle" fill="#1a1a1a" font-family="'Liberation Sans', Arial, sans-serif" font-weight="bold" stroke="#1a1a1a" stroke-width="0.42">0</text>
<path d="M500.0 489.6v2.5" stroke="#333" stroke-width="1.2"/>
<text x="501.5" y="503.2" font-size="9.5" text-anchor="middle" fill="#1a1a1a" font-family="'Liberation Sans', Arial, sans-serif" font-weight="bold" stroke="#1a1a1a" stroke-width="0.42">20</text>
<path d="M529.4 489.6v2.5" stroke="#333" stroke-width="1.2"/>
<text x="530.9" y="503.2" font-size="9.5" text-anchor="middle" fill="#1a1a1a" font-family="'Liberation Sans', Arial, sans-serif" font-weight="bold" stroke="#1a1a1a" stroke-width="0.42">40</text>
<path d="M558.8 489.6v2.5" stroke="#333" stroke-width="1.2"/>
<text x="560.3" y="503.2" font-size="9.5" text-anchor="middle" fill="#1a1a1a" font-family="'Liberation Sans', Arial, sans-serif" font-weight="bold" stroke="#1a1a1a" stroke-width="0.42">60</text>
<path d="M588.2 489.6v2.5" stroke="#333" stroke-width="1.2"/>
<text x="589.7" y="503.2" font-size="9.5" text-anchor="middle" fill="#1a1a1a" font-family="'Liberation Sans', Arial, sans-serif" font-weight="bold" stroke="#1a1a1a" stroke-width="0.42">80</text>
<path d="M617.2 489.6v2.5" stroke="#333" stroke-width="1.2"/>
<text x="618.7" y="503.2" font-size="9.5" text-anchor="middle" fill="#1a1a1a" font-family="'Liberation Sans', Arial, sans-serif" font-weight="bold" stroke="#1a1a1a" stroke-width="0.42">100</text>
<path d="M485.2 489.6v1.5" stroke="#333" stroke-width="1"/>
<path d="M514.6 489.6v1.5" stroke="#333" stroke-width="1"/>
<path d="M544.0 489.6v1.5" stroke="#333" stroke-width="1"/>
<path d="M573.4 489.6v1.5" stroke="#333" stroke-width="1"/>
<path d="M602.8 489.6v1.5" stroke="#333" stroke-width="1"/>
<text x="546.8" y="515.3" font-size="9.67" textLength="68.2" lengthAdjust="spacingAndGlyphs" text-anchor="middle" fill="#1a1a1a" font-family="'Liberation Sans', Arial, sans-serif" font-weight="bold" stroke="#1a1a1a" stroke-width="0.42">Speed (mm/s)</text>
<text transform="translate(440.7 431.8) rotate(-90)" x="0" y="3.7" font-size="10.4" text-anchor="middle" fill="#1a1a1a" font-family="'Liberation Sans', Arial, sans-serif" font-weight="bold" stroke="#1a1a1a" stroke-width="0.42">Diameter (μm)</text>
<text transform="translate(637.4 430) rotate(-90)" x="0" y="3.6" font-size="10.1" text-anchor="middle" fill="#dd2b3b" font-family="'Liberation Sans', Arial, sans-serif" font-weight="bold" stroke="#dd2b3b" stroke-width="0.42">Resistance (MΩ)</text>
<polyline points="485.2,484.8 514.6,482.6 544.0,449.6 573.4,448.6 602.8,447.0" fill="none" stroke="#dd2b3b" stroke-width="1.3"/>
<circle cx="485.2" cy="484.8" r="2.6" fill="#dd2b3b"/>
<circle cx="514.6" cy="482.6" r="2.6" fill="#dd2b3b"/>
<circle cx="544.0" cy="449.6" r="2.6" fill="#dd2b3b"/>
<circle cx="573.4" cy="448.6" r="2.6" fill="#dd2b3b"/>
<circle cx="602.8" cy="447.0" r="2.6" fill="#dd2b3b"/>
<polyline points="485.2,396.7 514.6,416.3 544.0,419.0 573.4,427.7 602.8,428.9" fill="none" stroke="#1a1a1a" stroke-width="1.2"/>
<path d="M485.2 387.1V406.4M483.7 387.1h3M483.7 406.4h3" stroke="#1a1a1a" stroke-width="1"/>
<circle cx="485.2" cy="396.7" r="2.2" fill="#666" stroke="#1a1a1a" stroke-width="1.3"/>
<path d="M514.6 414.2V418.3M513.1 414.2h3M513.1 418.3h3" stroke="#1a1a1a" stroke-width="1"/>
<circle cx="514.6" cy="416.3" r="2.2" fill="#666" stroke="#1a1a1a" stroke-width="1.3"/>
<path d="M544.0 416.1V422.0M542.5 416.1h3M542.5 422.0h3" stroke="#1a1a1a" stroke-width="1"/>
<circle cx="544.0" cy="419.0" r="2.2" fill="#666" stroke="#1a1a1a" stroke-width="1.3"/>
<path d="M573.4 420.4V435.0M571.9 420.4h3M571.9 435.0h3" stroke="#1a1a1a" stroke-width="1"/>
<circle cx="573.4" cy="427.7" r="2.2" fill="#666" stroke="#1a1a1a" stroke-width="1.3"/>
<path d="M602.8 421.0V436.8M601.3 421.0h3M601.3 436.8h3" stroke="#1a1a1a" stroke-width="1"/>
<circle cx="602.8" cy="428.9" r="2.2" fill="#666" stroke="#1a1a1a" stroke-width="1.3"/>
<path d="M535.5 392H551.2" stroke="#1a1a1a" stroke-width="1.2"/>
<circle cx="543.4" cy="392" r="2.1" fill="#666" stroke="#1a1a1a" stroke-width="1.3"/>
<path d="M535.5 404.3H551.2" stroke="#dd2b3b" stroke-width="1.2"/>
<circle cx="543.4" cy="404.3" r="2.4" fill="#dd2b3b"/>
<text x="555.3" y="393.9" font-size="10.1" fill="#1a1a1a" font-family="'Liberation Sans', Arial, sans-serif" font-weight="bold" stroke="#1a1a1a" stroke-width="0.42">Diameter</text>
<text x="555.3" y="405.9" font-size="10.1" fill="#1a1a1a" font-family="'Liberation Sans', Arial, sans-serif" font-weight="bold" stroke="#1a1a1a" stroke-width="0.42">Resistance</text>
<text x="431" y="383.8" font-size="15.8" fill="#111" font-family="'Liberation Sans', Arial, sans-serif" font-weight="bold" stroke="#111" stroke-width="0.42">(j)</text>
<path d="M494 489 a10 8 0 1 1 6 7 l-4 3 l0.5 -4.5 a10 8 0 0 1 -2.5 -5.5z" fill="#fff" stroke="#c9c9c9" stroke-width="0.7" stroke-dasharray="1.5 1.5"/>
<path d="M503 495 a9 7 0 1 0 16 3 l2 3 l-1 -4 a9 7 0 0 0 -17 -2z" fill="#fff" stroke="#c9c9c9" stroke-width="0.7" stroke-dasharray="1.5 1.5"/>
<path d="M496 497 q3 -1 5 2 q3 2 5 -0.5" fill="none" stroke="#222" stroke-width="1.2"/>
<path d="M516 489.5 h9" stroke="#333" stroke-width="1.1"/>
<text x="523.6" y="498.6" font-size="17" fill="#333" font-family="'Noto Sans CJK SC', 'WenQuanYi Zen Hei', sans-serif" font-weight="500" letter-spacing="-0.75" stroke="#333" stroke-width="0.5">材料分析与应用</text>
<text x="524.8" y="497.6" font-size="17" fill="#fff" font-family="'Noto Sans CJK SC', 'WenQuanYi Zen Hei', sans-serif" font-weight="500" letter-spacing="-0.75" stroke="#fff" stroke-width="0.4">材料分析与应用</text>
</svg>
</body></html>
